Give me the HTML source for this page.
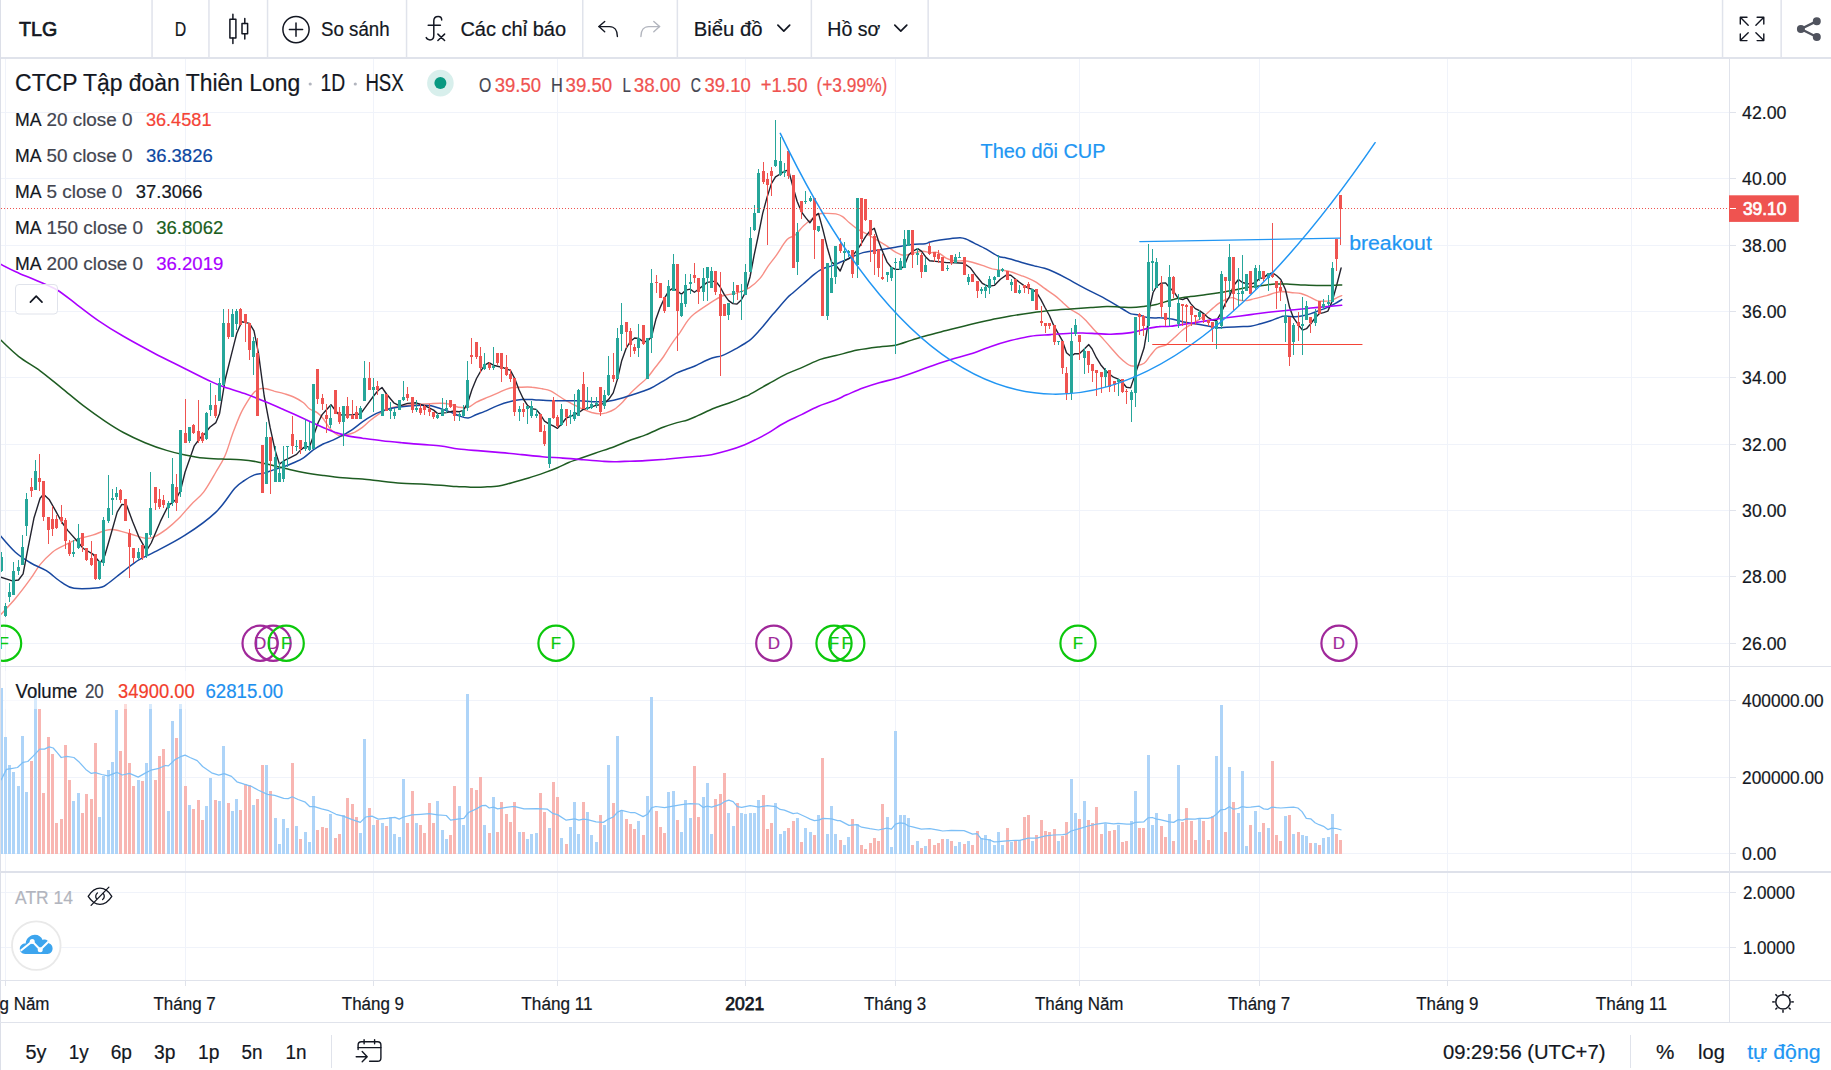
<!DOCTYPE html>
<html><head><meta charset="utf-8"><title>TLG chart</title>
<style>html,body{margin:0;padding:0;background:#fff;}body{width:1831px;height:1070px;overflow:hidden;font-family:"Liberation Sans", sans-serif;}svg{display:block}</style>
</head><body>
<svg width="1831" height="1070" viewBox="0 0 1831 1070" font-family='"Liberation Sans", sans-serif'>
<rect width="1831" height="1070" fill="#ffffff"/>
<g shape-rendering="crispEdges">
<rect x="5.00" y="59.00" width="1.00" height="921.00" fill="#f0f3fa"/>
<rect x="185.00" y="59.00" width="1.00" height="921.00" fill="#f0f3fa"/>
<rect x="373.00" y="59.00" width="1.00" height="921.00" fill="#f0f3fa"/>
<rect x="557.00" y="59.00" width="1.00" height="921.00" fill="#f0f3fa"/>
<rect x="745.00" y="59.00" width="1.00" height="921.00" fill="#f0f3fa"/>
<rect x="895.00" y="59.00" width="1.00" height="921.00" fill="#f0f3fa"/>
<rect x="1079.00" y="59.00" width="1.00" height="921.00" fill="#f0f3fa"/>
<rect x="1259.00" y="59.00" width="1.00" height="921.00" fill="#f0f3fa"/>
<rect x="1447.00" y="59.00" width="1.00" height="921.00" fill="#f0f3fa"/>
<rect x="1631.00" y="59.00" width="1.00" height="921.00" fill="#f0f3fa"/>
<rect x="1.00" y="643.00" width="1728.00" height="1.00" fill="#f0f3fa"/>
<rect x="1.00" y="576.00" width="1728.00" height="1.00" fill="#f0f3fa"/>
<rect x="1.00" y="510.00" width="1728.00" height="1.00" fill="#f0f3fa"/>
<rect x="1.00" y="444.00" width="1728.00" height="1.00" fill="#f0f3fa"/>
<rect x="1.00" y="377.00" width="1728.00" height="1.00" fill="#f0f3fa"/>
<rect x="1.00" y="311.00" width="1728.00" height="1.00" fill="#f0f3fa"/>
<rect x="1.00" y="245.00" width="1728.00" height="1.00" fill="#f0f3fa"/>
<rect x="1.00" y="178.00" width="1728.00" height="1.00" fill="#f0f3fa"/>
<rect x="1.00" y="112.00" width="1728.00" height="1.00" fill="#f0f3fa"/>
<rect x="1.00" y="700.00" width="1728.00" height="1.00" fill="#f0f3fa"/>
<rect x="1.00" y="777.00" width="1728.00" height="1.00" fill="#f0f3fa"/>
<rect x="1.00" y="853.00" width="1728.00" height="1.00" fill="#f0f3fa"/>
<rect x="1.00" y="892.00" width="1728.00" height="1.00" fill="#f0f3fa"/>
<rect x="1.00" y="947.00" width="1728.00" height="1.00" fill="#f0f3fa"/>
</g>
<defs><clipPath id="cm"><rect x="1" y="59" width="1728" height="607"/></clipPath><clipPath id="cv"><rect x="1" y="667" width="1728" height="204"/></clipPath></defs>
<g clip-path="url(#cv)" shape-rendering="crispEdges">
<rect x="0.00" y="687.62" width="3.00" height="166.38" fill="#aed4f8"/>
<rect x="4.00" y="737.18" width="3.00" height="116.82" fill="#aed4f8"/>
<rect x="8.00" y="765.14" width="3.00" height="88.86" fill="#aed4f8"/>
<rect x="12.00" y="772.13" width="3.00" height="81.87" fill="#aed4f8"/>
<rect x="17.00" y="786.11" width="3.00" height="67.89" fill="#aed4f8"/>
<rect x="21.00" y="736.07" width="3.00" height="117.93" fill="#aed4f8"/>
<rect x="25.00" y="791.99" width="3.00" height="62.01" fill="#aed4f8"/>
<rect x="30.00" y="761.01" width="3.00" height="92.99" fill="#f8b6b2"/>
<rect x="34.00" y="687.62" width="3.00" height="166.38" fill="#aed4f8"/>
<rect x="38.00" y="709.06" width="3.00" height="144.94" fill="#f8b6b2"/>
<rect x="42.00" y="793.26" width="3.00" height="60.74" fill="#f8b6b2"/>
<rect x="47.00" y="737.18" width="3.00" height="116.82" fill="#f8b6b2"/>
<rect x="51.00" y="754.02" width="3.00" height="99.98" fill="#f8b6b2"/>
<rect x="55.00" y="823.12" width="3.00" height="30.88" fill="#f8b6b2"/>
<rect x="60.00" y="818.99" width="3.00" height="35.01" fill="#f8b6b2"/>
<rect x="64.00" y="745.12" width="3.00" height="108.88" fill="#f8b6b2"/>
<rect x="68.00" y="780.07" width="3.00" height="73.93" fill="#f8b6b2"/>
<rect x="72.00" y="801.20" width="3.00" height="52.80" fill="#aed4f8"/>
<rect x="77.00" y="793.26" width="3.00" height="60.74" fill="#aed4f8"/>
<rect x="81.00" y="813.11" width="3.00" height="40.89" fill="#f8b6b2"/>
<rect x="85.00" y="794.05" width="3.00" height="59.95" fill="#f8b6b2"/>
<rect x="90.00" y="799.13" width="3.00" height="54.87" fill="#f8b6b2"/>
<rect x="94.00" y="743.22" width="3.00" height="110.78" fill="#f8b6b2"/>
<rect x="98.00" y="817.08" width="3.00" height="36.92" fill="#aed4f8"/>
<rect x="102.00" y="776.10" width="3.00" height="77.90" fill="#aed4f8"/>
<rect x="107.00" y="770.22" width="3.00" height="83.78" fill="#aed4f8"/>
<rect x="111.00" y="762.28" width="3.00" height="91.72" fill="#aed4f8"/>
<rect x="115.00" y="710.17" width="3.00" height="143.83" fill="#aed4f8"/>
<rect x="119.00" y="751.16" width="3.00" height="102.84" fill="#f8b6b2"/>
<rect x="124.00" y="704.30" width="3.00" height="149.70" fill="#f8b6b2"/>
<rect x="128.00" y="763.07" width="3.00" height="90.93" fill="#f8b6b2"/>
<rect x="132.00" y="786.11" width="3.00" height="67.89" fill="#f8b6b2"/>
<rect x="137.00" y="780.07" width="3.00" height="73.93" fill="#aed4f8"/>
<rect x="141.00" y="781.02" width="3.00" height="72.98" fill="#f8b6b2"/>
<rect x="145.00" y="763.07" width="3.00" height="90.93" fill="#aed4f8"/>
<rect x="149.00" y="704.30" width="3.00" height="149.70" fill="#aed4f8"/>
<rect x="154.00" y="780.07" width="3.00" height="73.93" fill="#f8b6b2"/>
<rect x="158.00" y="755.93" width="3.00" height="98.07" fill="#f8b6b2"/>
<rect x="162.00" y="749.09" width="3.00" height="104.91" fill="#f8b6b2"/>
<rect x="167.00" y="811.05" width="3.00" height="42.95" fill="#aed4f8"/>
<rect x="171.00" y="721.29" width="3.00" height="132.71" fill="#aed4f8"/>
<rect x="175.00" y="738.13" width="3.00" height="115.87" fill="#f8b6b2"/>
<rect x="179.00" y="703.50" width="3.00" height="150.50" fill="#aed4f8"/>
<rect x="184.00" y="786.11" width="3.00" height="67.89" fill="#f8b6b2"/>
<rect x="188.00" y="805.26" width="3.00" height="48.74" fill="#aed4f8"/>
<rect x="192.00" y="809.22" width="3.00" height="44.78" fill="#f8b6b2"/>
<rect x="197.00" y="800.21" width="3.00" height="53.79" fill="#f8b6b2"/>
<rect x="201.00" y="820.22" width="3.00" height="33.78" fill="#f8b6b2"/>
<rect x="205.00" y="806.16" width="3.00" height="47.84" fill="#aed4f8"/>
<rect x="209.00" y="778.23" width="3.00" height="75.77" fill="#aed4f8"/>
<rect x="214.00" y="800.21" width="3.00" height="53.79" fill="#f8b6b2"/>
<rect x="218.00" y="801.11" width="3.00" height="52.89" fill="#aed4f8"/>
<rect x="222.00" y="746.14" width="3.00" height="107.86" fill="#aed4f8"/>
<rect x="227.00" y="803.10" width="3.00" height="50.90" fill="#f8b6b2"/>
<rect x="231.00" y="811.21" width="3.00" height="42.79" fill="#aed4f8"/>
<rect x="235.00" y="798.95" width="3.00" height="55.05" fill="#aed4f8"/>
<rect x="239.00" y="810.13" width="3.00" height="43.87" fill="#f8b6b2"/>
<rect x="244.00" y="784.17" width="3.00" height="69.83" fill="#f8b6b2"/>
<rect x="248.00" y="785.43" width="3.00" height="68.57" fill="#f8b6b2"/>
<rect x="252.00" y="805.26" width="3.00" height="48.74" fill="#aed4f8"/>
<rect x="256.00" y="798.95" width="3.00" height="55.05" fill="#f8b6b2"/>
<rect x="261.00" y="765.07" width="3.00" height="88.93" fill="#f8b6b2"/>
<rect x="265.00" y="765.07" width="3.00" height="88.93" fill="#aed4f8"/>
<rect x="269.00" y="791.20" width="3.00" height="62.80" fill="#f8b6b2"/>
<rect x="274.00" y="818.24" width="3.00" height="35.76" fill="#aed4f8"/>
<rect x="278.00" y="844.01" width="3.00" height="9.99" fill="#aed4f8"/>
<rect x="282.00" y="819.14" width="3.00" height="34.86" fill="#aed4f8"/>
<rect x="286.00" y="828.15" width="3.00" height="25.85" fill="#aed4f8"/>
<rect x="291.00" y="763.27" width="3.00" height="90.73" fill="#f8b6b2"/>
<rect x="295.00" y="825.99" width="3.00" height="28.01" fill="#aed4f8"/>
<rect x="299.00" y="839.14" width="3.00" height="14.86" fill="#f8b6b2"/>
<rect x="304.00" y="832.29" width="3.00" height="21.71" fill="#aed4f8"/>
<rect x="308.00" y="842.21" width="3.00" height="11.79" fill="#aed4f8"/>
<rect x="312.00" y="796.25" width="3.00" height="57.75" fill="#aed4f8"/>
<rect x="316.00" y="830.13" width="3.00" height="23.87" fill="#f8b6b2"/>
<rect x="321.00" y="827.25" width="3.00" height="26.75" fill="#f8b6b2"/>
<rect x="325.00" y="828.15" width="3.00" height="25.85" fill="#f8b6b2"/>
<rect x="329.00" y="814.27" width="3.00" height="39.73" fill="#aed4f8"/>
<rect x="334.00" y="838.24" width="3.00" height="15.76" fill="#f8b6b2"/>
<rect x="338.00" y="834.10" width="3.00" height="19.90" fill="#f8b6b2"/>
<rect x="342.00" y="815.17" width="3.00" height="38.83" fill="#aed4f8"/>
<rect x="346.00" y="798.05" width="3.00" height="55.95" fill="#f8b6b2"/>
<rect x="351.00" y="804.00" width="3.00" height="50.00" fill="#f8b6b2"/>
<rect x="355.00" y="817.33" width="3.00" height="36.67" fill="#f8b6b2"/>
<rect x="359.00" y="833.19" width="3.00" height="20.81" fill="#aed4f8"/>
<rect x="363.00" y="739.12" width="3.00" height="114.88" fill="#aed4f8"/>
<rect x="368.00" y="808.14" width="3.00" height="45.86" fill="#f8b6b2"/>
<rect x="372.00" y="825.08" width="3.00" height="28.92" fill="#aed4f8"/>
<rect x="376.00" y="820.22" width="3.00" height="33.78" fill="#f8b6b2"/>
<rect x="381.00" y="823.28" width="3.00" height="30.72" fill="#aed4f8"/>
<rect x="385.00" y="826.17" width="3.00" height="27.83" fill="#f8b6b2"/>
<rect x="389.00" y="817.33" width="3.00" height="36.67" fill="#aed4f8"/>
<rect x="393.00" y="834.10" width="3.00" height="19.90" fill="#aed4f8"/>
<rect x="398.00" y="837.16" width="3.00" height="16.84" fill="#aed4f8"/>
<rect x="402.00" y="779.13" width="3.00" height="74.87" fill="#aed4f8"/>
<rect x="406.00" y="823.28" width="3.00" height="30.72" fill="#f8b6b2"/>
<rect x="411.00" y="791.20" width="3.00" height="62.80" fill="#f8b6b2"/>
<rect x="415.00" y="823.28" width="3.00" height="30.72" fill="#aed4f8"/>
<rect x="419.00" y="825.08" width="3.00" height="28.92" fill="#f8b6b2"/>
<rect x="423.00" y="833.19" width="3.00" height="20.81" fill="#f8b6b2"/>
<rect x="428.00" y="803.10" width="3.00" height="50.90" fill="#f8b6b2"/>
<rect x="432.00" y="823.28" width="3.00" height="30.72" fill="#f8b6b2"/>
<rect x="436.00" y="801.11" width="3.00" height="52.89" fill="#aed4f8"/>
<rect x="441.00" y="830.13" width="3.00" height="23.87" fill="#aed4f8"/>
<rect x="445.00" y="839.14" width="3.00" height="14.86" fill="#aed4f8"/>
<rect x="449.00" y="835.18" width="3.00" height="18.82" fill="#f8b6b2"/>
<rect x="453.00" y="786.34" width="3.00" height="67.66" fill="#f8b6b2"/>
<rect x="458.00" y="806.16" width="3.00" height="47.84" fill="#aed4f8"/>
<rect x="462.00" y="825.08" width="3.00" height="28.92" fill="#aed4f8"/>
<rect x="466.00" y="694.06" width="3.00" height="159.94" fill="#aed4f8"/>
<rect x="470.00" y="788.14" width="3.00" height="65.86" fill="#f8b6b2"/>
<rect x="475.00" y="790.12" width="3.00" height="63.88" fill="#f8b6b2"/>
<rect x="479.00" y="777.32" width="3.00" height="76.68" fill="#f8b6b2"/>
<rect x="483.00" y="825.08" width="3.00" height="28.92" fill="#aed4f8"/>
<rect x="488.00" y="833.19" width="3.00" height="20.81" fill="#f8b6b2"/>
<rect x="492.00" y="797.15" width="3.00" height="56.85" fill="#aed4f8"/>
<rect x="496.00" y="832.29" width="3.00" height="21.71" fill="#f8b6b2"/>
<rect x="500.00" y="802.20" width="3.00" height="51.80" fill="#f8b6b2"/>
<rect x="505.00" y="814.27" width="3.00" height="39.73" fill="#f8b6b2"/>
<rect x="509.00" y="822.20" width="3.00" height="31.80" fill="#f8b6b2"/>
<rect x="513.00" y="802.20" width="3.00" height="51.80" fill="#f8b6b2"/>
<rect x="518.00" y="832.29" width="3.00" height="21.71" fill="#aed4f8"/>
<rect x="522.00" y="832.29" width="3.00" height="21.71" fill="#f8b6b2"/>
<rect x="526.00" y="839.14" width="3.00" height="14.86" fill="#aed4f8"/>
<rect x="530.00" y="834.10" width="3.00" height="19.90" fill="#aed4f8"/>
<rect x="535.00" y="833.19" width="3.00" height="20.81" fill="#aed4f8"/>
<rect x="539.00" y="793.18" width="3.00" height="60.82" fill="#f8b6b2"/>
<rect x="543.00" y="812.11" width="3.00" height="41.89" fill="#f8b6b2"/>
<rect x="548.00" y="828.15" width="3.00" height="25.85" fill="#aed4f8"/>
<rect x="552.00" y="782.19" width="3.00" height="71.81" fill="#f8b6b2"/>
<rect x="556.00" y="797.15" width="3.00" height="56.85" fill="#f8b6b2"/>
<rect x="560.00" y="838.24" width="3.00" height="15.76" fill="#aed4f8"/>
<rect x="565.00" y="844.01" width="3.00" height="9.99" fill="#f8b6b2"/>
<rect x="569.00" y="827.25" width="3.00" height="26.75" fill="#aed4f8"/>
<rect x="573.00" y="802.20" width="3.00" height="51.80" fill="#aed4f8"/>
<rect x="577.00" y="834.10" width="3.00" height="19.90" fill="#aed4f8"/>
<rect x="582.00" y="802.20" width="3.00" height="51.80" fill="#f8b6b2"/>
<rect x="586.00" y="812.11" width="3.00" height="41.89" fill="#aed4f8"/>
<rect x="590.00" y="835.00" width="3.00" height="19.00" fill="#aed4f8"/>
<rect x="595.00" y="842.21" width="3.00" height="11.79" fill="#aed4f8"/>
<rect x="599.00" y="815.17" width="3.00" height="38.83" fill="#f8b6b2"/>
<rect x="603.00" y="825.08" width="3.00" height="28.92" fill="#aed4f8"/>
<rect x="607.00" y="765.07" width="3.00" height="88.93" fill="#aed4f8"/>
<rect x="612.00" y="803.10" width="3.00" height="50.90" fill="#f8b6b2"/>
<rect x="616.00" y="736.05" width="3.00" height="117.95" fill="#aed4f8"/>
<rect x="620.00" y="810.13" width="3.00" height="43.87" fill="#aed4f8"/>
<rect x="625.00" y="819.14" width="3.00" height="34.86" fill="#f8b6b2"/>
<rect x="629.00" y="824.18" width="3.00" height="29.82" fill="#f8b6b2"/>
<rect x="633.00" y="829.23" width="3.00" height="24.77" fill="#f8b6b2"/>
<rect x="637.00" y="821.12" width="3.00" height="32.88" fill="#aed4f8"/>
<rect x="642.00" y="835.00" width="3.00" height="19.00" fill="#f8b6b2"/>
<rect x="646.00" y="796.25" width="3.00" height="57.75" fill="#aed4f8"/>
<rect x="650.00" y="697.12" width="3.00" height="156.88" fill="#aed4f8"/>
<rect x="655.00" y="811.21" width="3.00" height="42.79" fill="#f8b6b2"/>
<rect x="659.00" y="827.25" width="3.00" height="26.75" fill="#f8b6b2"/>
<rect x="663.00" y="833.19" width="3.00" height="20.81" fill="#f8b6b2"/>
<rect x="667.00" y="792.10" width="3.00" height="61.90" fill="#aed4f8"/>
<rect x="672.00" y="791.20" width="3.00" height="62.80" fill="#aed4f8"/>
<rect x="676.00" y="820.22" width="3.00" height="33.78" fill="#f8b6b2"/>
<rect x="680.00" y="832.29" width="3.00" height="21.71" fill="#aed4f8"/>
<rect x="684.00" y="800.21" width="3.00" height="53.79" fill="#aed4f8"/>
<rect x="689.00" y="818.24" width="3.00" height="35.76" fill="#aed4f8"/>
<rect x="693.00" y="766.15" width="3.00" height="87.85" fill="#f8b6b2"/>
<rect x="697.00" y="817.15" width="3.00" height="36.85" fill="#f8b6b2"/>
<rect x="702.00" y="797.15" width="3.00" height="56.85" fill="#aed4f8"/>
<rect x="706.00" y="783.09" width="3.00" height="70.91" fill="#aed4f8"/>
<rect x="710.00" y="834.10" width="3.00" height="19.90" fill="#aed4f8"/>
<rect x="714.00" y="798.95" width="3.00" height="55.05" fill="#f8b6b2"/>
<rect x="719.00" y="794.09" width="3.00" height="59.91" fill="#f8b6b2"/>
<rect x="723.00" y="773.18" width="3.00" height="80.82" fill="#f8b6b2"/>
<rect x="727.00" y="813.19" width="3.00" height="40.81" fill="#aed4f8"/>
<rect x="732.00" y="826.17" width="3.00" height="27.83" fill="#aed4f8"/>
<rect x="736.00" y="803.10" width="3.00" height="50.90" fill="#f8b6b2"/>
<rect x="740.00" y="813.19" width="3.00" height="40.81" fill="#aed4f8"/>
<rect x="744.00" y="814.27" width="3.00" height="39.73" fill="#aed4f8"/>
<rect x="749.00" y="813.19" width="3.00" height="40.81" fill="#aed4f8"/>
<rect x="753.00" y="813.19" width="3.00" height="40.81" fill="#aed4f8"/>
<rect x="757.00" y="800.21" width="3.00" height="53.79" fill="#aed4f8"/>
<rect x="762.00" y="795.17" width="3.00" height="58.83" fill="#f8b6b2"/>
<rect x="766.00" y="829.23" width="3.00" height="24.77" fill="#f8b6b2"/>
<rect x="770.00" y="823.28" width="3.00" height="30.72" fill="#f8b6b2"/>
<rect x="774.00" y="803.10" width="3.00" height="50.90" fill="#aed4f8"/>
<rect x="779.00" y="834.10" width="3.00" height="19.90" fill="#aed4f8"/>
<rect x="783.00" y="831.21" width="3.00" height="22.79" fill="#aed4f8"/>
<rect x="787.00" y="828.15" width="3.00" height="25.85" fill="#f8b6b2"/>
<rect x="792.00" y="821.12" width="3.00" height="32.88" fill="#f8b6b2"/>
<rect x="796.00" y="818.24" width="3.00" height="35.76" fill="#aed4f8"/>
<rect x="800.00" y="842.21" width="3.00" height="11.79" fill="#f8b6b2"/>
<rect x="804.00" y="828.15" width="3.00" height="25.85" fill="#aed4f8"/>
<rect x="809.00" y="832.29" width="3.00" height="21.71" fill="#aed4f8"/>
<rect x="813.00" y="835.00" width="3.00" height="19.00" fill="#f8b6b2"/>
<rect x="817.00" y="815.17" width="3.00" height="38.83" fill="#aed4f8"/>
<rect x="821.00" y="758.04" width="3.00" height="95.96" fill="#f8b6b2"/>
<rect x="826.00" y="834.10" width="3.00" height="19.90" fill="#aed4f8"/>
<rect x="830.00" y="806.16" width="3.00" height="47.84" fill="#aed4f8"/>
<rect x="834.00" y="834.10" width="3.00" height="19.90" fill="#aed4f8"/>
<rect x="839.00" y="840.04" width="3.00" height="13.96" fill="#f8b6b2"/>
<rect x="843.00" y="845.09" width="3.00" height="8.91" fill="#aed4f8"/>
<rect x="847.00" y="837.16" width="3.00" height="16.84" fill="#aed4f8"/>
<rect x="851.00" y="819.14" width="3.00" height="34.86" fill="#f8b6b2"/>
<rect x="856.00" y="824.18" width="3.00" height="29.82" fill="#aed4f8"/>
<rect x="860.00" y="845.09" width="3.00" height="8.91" fill="#f8b6b2"/>
<rect x="864.00" y="849.06" width="3.00" height="4.94" fill="#f8b6b2"/>
<rect x="869.00" y="843.11" width="3.00" height="10.89" fill="#f8b6b2"/>
<rect x="873.00" y="838.24" width="3.00" height="15.76" fill="#f8b6b2"/>
<rect x="877.00" y="841.13" width="3.00" height="12.87" fill="#f8b6b2"/>
<rect x="881.00" y="804.18" width="3.00" height="49.82" fill="#f8b6b2"/>
<rect x="886.00" y="817.15" width="3.00" height="36.85" fill="#aed4f8"/>
<rect x="890.00" y="847.25" width="3.00" height="6.75" fill="#aed4f8"/>
<rect x="894.00" y="731.00" width="3.00" height="123.00" fill="#aed4f8"/>
<rect x="899.00" y="815.17" width="3.00" height="38.83" fill="#aed4f8"/>
<rect x="903.00" y="815.17" width="3.00" height="38.83" fill="#aed4f8"/>
<rect x="907.00" y="818.24" width="3.00" height="35.76" fill="#aed4f8"/>
<rect x="911.00" y="845.09" width="3.00" height="8.91" fill="#f8b6b2"/>
<rect x="916.00" y="841.13" width="3.00" height="12.87" fill="#aed4f8"/>
<rect x="920.00" y="848.15" width="3.00" height="5.85" fill="#f8b6b2"/>
<rect x="924.00" y="846.17" width="3.00" height="7.83" fill="#aed4f8"/>
<rect x="928.00" y="839.14" width="3.00" height="14.86" fill="#f8b6b2"/>
<rect x="933.00" y="845.09" width="3.00" height="8.91" fill="#f8b6b2"/>
<rect x="937.00" y="843.11" width="3.00" height="10.89" fill="#f8b6b2"/>
<rect x="941.00" y="839.14" width="3.00" height="14.86" fill="#f8b6b2"/>
<rect x="946.00" y="839.14" width="3.00" height="14.86" fill="#aed4f8"/>
<rect x="950.00" y="841.13" width="3.00" height="12.87" fill="#f8b6b2"/>
<rect x="954.00" y="846.17" width="3.00" height="7.83" fill="#aed4f8"/>
<rect x="958.00" y="842.21" width="3.00" height="11.79" fill="#aed4f8"/>
<rect x="963.00" y="844.01" width="3.00" height="9.99" fill="#f8b6b2"/>
<rect x="967.00" y="841.13" width="3.00" height="12.87" fill="#aed4f8"/>
<rect x="971.00" y="845.09" width="3.00" height="8.91" fill="#f8b6b2"/>
<rect x="976.00" y="831.21" width="3.00" height="22.79" fill="#f8b6b2"/>
<rect x="980.00" y="838.24" width="3.00" height="15.76" fill="#aed4f8"/>
<rect x="984.00" y="835.18" width="3.00" height="18.82" fill="#aed4f8"/>
<rect x="988.00" y="839.14" width="3.00" height="14.86" fill="#aed4f8"/>
<rect x="993.00" y="845.09" width="3.00" height="8.91" fill="#aed4f8"/>
<rect x="997.00" y="832.29" width="3.00" height="21.71" fill="#aed4f8"/>
<rect x="1001.00" y="845.09" width="3.00" height="8.91" fill="#aed4f8"/>
<rect x="1006.00" y="828.15" width="3.00" height="25.85" fill="#f8b6b2"/>
<rect x="1010.00" y="842.21" width="3.00" height="11.79" fill="#aed4f8"/>
<rect x="1014.00" y="840.04" width="3.00" height="13.96" fill="#f8b6b2"/>
<rect x="1018.00" y="840.04" width="3.00" height="13.96" fill="#aed4f8"/>
<rect x="1023.00" y="817.15" width="3.00" height="36.85" fill="#f8b6b2"/>
<rect x="1027.00" y="815.17" width="3.00" height="38.83" fill="#f8b6b2"/>
<rect x="1031.00" y="841.13" width="3.00" height="12.87" fill="#aed4f8"/>
<rect x="1035.00" y="835.18" width="3.00" height="18.82" fill="#f8b6b2"/>
<rect x="1040.00" y="820.22" width="3.00" height="33.78" fill="#f8b6b2"/>
<rect x="1044.00" y="831.21" width="3.00" height="22.79" fill="#f8b6b2"/>
<rect x="1048.00" y="832.29" width="3.00" height="21.71" fill="#f8b6b2"/>
<rect x="1053.00" y="829.23" width="3.00" height="24.77" fill="#f8b6b2"/>
<rect x="1057.00" y="841.13" width="3.00" height="12.87" fill="#aed4f8"/>
<rect x="1061.00" y="836.26" width="3.00" height="17.74" fill="#f8b6b2"/>
<rect x="1065.00" y="822.20" width="3.00" height="31.80" fill="#f8b6b2"/>
<rect x="1070.00" y="779.13" width="3.00" height="74.87" fill="#aed4f8"/>
<rect x="1074.00" y="813.19" width="3.00" height="40.81" fill="#aed4f8"/>
<rect x="1078.00" y="819.14" width="3.00" height="34.86" fill="#f8b6b2"/>
<rect x="1083.00" y="801.11" width="3.00" height="52.89" fill="#aed4f8"/>
<rect x="1087.00" y="820.22" width="3.00" height="33.78" fill="#f8b6b2"/>
<rect x="1091.00" y="823.28" width="3.00" height="30.72" fill="#f8b6b2"/>
<rect x="1095.00" y="807.24" width="3.00" height="46.76" fill="#f8b6b2"/>
<rect x="1100.00" y="834.10" width="3.00" height="19.90" fill="#f8b6b2"/>
<rect x="1104.00" y="824.18" width="3.00" height="29.82" fill="#aed4f8"/>
<rect x="1108.00" y="831.21" width="3.00" height="22.79" fill="#f8b6b2"/>
<rect x="1113.00" y="830.13" width="3.00" height="23.87" fill="#f8b6b2"/>
<rect x="1117.00" y="825.08" width="3.00" height="28.92" fill="#aed4f8"/>
<rect x="1121.00" y="842.21" width="3.00" height="11.79" fill="#f8b6b2"/>
<rect x="1125.00" y="841.13" width="3.00" height="12.87" fill="#f8b6b2"/>
<rect x="1130.00" y="821.12" width="3.00" height="32.88" fill="#aed4f8"/>
<rect x="1134.00" y="791.20" width="3.00" height="62.80" fill="#aed4f8"/>
<rect x="1138.00" y="828.15" width="3.00" height="25.85" fill="#f8b6b2"/>
<rect x="1142.00" y="828.15" width="3.00" height="25.85" fill="#f8b6b2"/>
<rect x="1147.00" y="755.16" width="3.00" height="98.84" fill="#aed4f8"/>
<rect x="1151.00" y="825.08" width="3.00" height="28.92" fill="#aed4f8"/>
<rect x="1155.00" y="813.19" width="3.00" height="40.81" fill="#aed4f8"/>
<rect x="1160.00" y="826.17" width="3.00" height="27.83" fill="#f8b6b2"/>
<rect x="1164.00" y="837.16" width="3.00" height="16.84" fill="#f8b6b2"/>
<rect x="1168.00" y="814.27" width="3.00" height="39.73" fill="#aed4f8"/>
<rect x="1172.00" y="841.13" width="3.00" height="12.87" fill="#f8b6b2"/>
<rect x="1177.00" y="765.07" width="3.00" height="88.93" fill="#aed4f8"/>
<rect x="1181.00" y="822.20" width="3.00" height="31.80" fill="#f8b6b2"/>
<rect x="1185.00" y="808.14" width="3.00" height="45.86" fill="#f8b6b2"/>
<rect x="1190.00" y="821.12" width="3.00" height="32.88" fill="#f8b6b2"/>
<rect x="1194.00" y="840.04" width="3.00" height="13.96" fill="#f8b6b2"/>
<rect x="1198.00" y="818.24" width="3.00" height="35.76" fill="#aed4f8"/>
<rect x="1202.00" y="821.12" width="3.00" height="32.88" fill="#f8b6b2"/>
<rect x="1207.00" y="840.04" width="3.00" height="13.96" fill="#f8b6b2"/>
<rect x="1211.00" y="816.25" width="3.00" height="37.75" fill="#f8b6b2"/>
<rect x="1215.00" y="756.06" width="3.00" height="97.94" fill="#aed4f8"/>
<rect x="1220.00" y="705.05" width="3.00" height="148.95" fill="#aed4f8"/>
<rect x="1224.00" y="832.29" width="3.00" height="21.71" fill="#f8b6b2"/>
<rect x="1228.00" y="767.05" width="3.00" height="86.95" fill="#aed4f8"/>
<rect x="1232.00" y="802.20" width="3.00" height="51.80" fill="#f8b6b2"/>
<rect x="1237.00" y="813.19" width="3.00" height="40.81" fill="#aed4f8"/>
<rect x="1241.00" y="771.20" width="3.00" height="82.80" fill="#aed4f8"/>
<rect x="1245.00" y="846.17" width="3.00" height="7.83" fill="#aed4f8"/>
<rect x="1249.00" y="825.08" width="3.00" height="28.92" fill="#f8b6b2"/>
<rect x="1254.00" y="811.21" width="3.00" height="42.79" fill="#aed4f8"/>
<rect x="1258.00" y="832.29" width="3.00" height="21.71" fill="#aed4f8"/>
<rect x="1262.00" y="823.28" width="3.00" height="30.72" fill="#f8b6b2"/>
<rect x="1267.00" y="828.15" width="3.00" height="25.85" fill="#aed4f8"/>
<rect x="1271.00" y="761.10" width="3.00" height="92.90" fill="#f8b6b2"/>
<rect x="1275.00" y="835.18" width="3.00" height="18.82" fill="#f8b6b2"/>
<rect x="1279.00" y="841.13" width="3.00" height="12.87" fill="#f8b6b2"/>
<rect x="1284.00" y="816.25" width="3.00" height="37.75" fill="#aed4f8"/>
<rect x="1288.00" y="815.17" width="3.00" height="38.83" fill="#f8b6b2"/>
<rect x="1292.00" y="834.10" width="3.00" height="19.90" fill="#aed4f8"/>
<rect x="1297.00" y="832.29" width="3.00" height="21.71" fill="#f8b6b2"/>
<rect x="1301.00" y="835.18" width="3.00" height="18.82" fill="#aed4f8"/>
<rect x="1305.00" y="836.26" width="3.00" height="17.74" fill="#aed4f8"/>
<rect x="1309.00" y="843.11" width="3.00" height="10.89" fill="#f8b6b2"/>
<rect x="1314.00" y="843.11" width="3.00" height="10.89" fill="#aed4f8"/>
<rect x="1318.00" y="845.09" width="3.00" height="8.91" fill="#f8b6b2"/>
<rect x="1322.00" y="838.24" width="3.00" height="15.76" fill="#aed4f8"/>
<rect x="1327.00" y="837.16" width="3.00" height="16.84" fill="#aed4f8"/>
<rect x="1331.00" y="814.27" width="3.00" height="39.73" fill="#aed4f8"/>
<rect x="1335.00" y="834.10" width="3.00" height="19.90" fill="#f8b6b2"/>
<rect x="1339.00" y="840.04" width="3.00" height="13.96" fill="#f8b6b2"/>
</g>
<path clip-path="url(#cv)" d="M-3.2,785.3 L1.6,779.0 L6.4,769.4 L11.1,768.6 L17.5,767.5 L23.0,762.3 L27.8,761.5 L33.4,755.9 L39.7,749.1 L44.5,749.1 L49.2,746.9 L53.2,748.0 L57.2,752.7 L61.2,757.5 L66.7,756.4 L73.9,757.5 L79.4,762.3 L85.8,769.4 L91.3,773.4 L95.3,772.6 L101.7,774.5 L108.0,775.8 L116.8,772.3 L122.3,775.0 L129.5,773.4 L138.2,777.1 L146.1,772.6 L150.9,770.2 L158.9,768.3 L165.2,765.5 L168.4,765.9 L174.7,759.9 L180.5,756.7 L185.1,755.1 L190.0,757.5 L197.2,760.6 L202.6,766.5 L211.6,772.8 L218.8,775.2 L224.2,773.7 L231.5,776.4 L236.9,781.8 L244.1,784.2 L251.3,786.3 L258.5,790.3 L267.5,794.4 L274.7,795.3 L283.7,798.4 L288.2,798.6 L292.2,796.8 L298.1,799.5 L305.3,802.2 L309.9,806.7 L314.4,806.7 L321.6,808.9 L328.8,810.7 L336.0,814.3 L343.2,816.1 L352.2,819.7 L360.3,822.4 L365.7,817.0 L372.0,816.1 L378.3,819.1 L386.5,818.4 L394.9,817.3 L399.2,819.1 L403.6,817.0 L412.0,814.8 L420.7,814.3 L429.2,813.7 L437.8,814.8 L446.3,815.5 L450.6,820.2 L459.3,818.8 L463.9,818.4 L468.5,812.5 L476.4,808.9 L482.0,805.6 L485.6,805.3 L489.2,808.0 L493.5,807.1 L497.7,808.9 L506.3,807.4 L512.6,806.7 L515.0,806.7 L524.0,808.9 L536.6,808.7 L547.4,809.2 L553.2,813.7 L557.5,814.6 L566.2,820.2 L574.7,818.8 L579.0,820.2 L583.3,819.1 L587.5,819.7 L596.1,821.8 L603.3,822.4 L608.9,818.8 L613.2,817.0 L617.6,812.1 L621.7,810.3 L630.3,812.5 L634.7,812.5 L643.1,816.6 L647.5,814.3 L651.8,807.6 L655.9,806.5 L664.6,807.6 L673.1,806.2 L681.7,804.7 L690.2,803.6 L698.8,804.0 L703.2,807.4 L707.3,806.2 L711.6,807.1 L720.3,804.4 L724.4,801.7 L728.8,800.2 L733.1,801.7 L737.4,806.7 L741.7,807.4 L750.2,805.6 L758.9,807.1 L767.3,805.6 L776.0,806.7 L780.1,809.4 L784.4,810.1 L793.1,813.7 L797.2,813.0 L805.9,817.0 L810.2,819.1 L814.4,820.6 L818.7,820.2 L823.0,818.4 L831.5,818.8 L837.6,820.6 L840.0,820.6 L849.0,825.4 L857.1,824.7 L861.6,827.2 L869.9,828.7 L878.4,830.0 L887.0,828.1 L891.4,829.2 L895.5,824.2 L899.8,822.9 L904.2,823.3 L908.5,826.0 L912.6,826.9 L921.3,829.2 L929.8,828.7 L938.4,830.1 L942.7,831.0 L951.2,830.3 L964.0,830.7 L972.6,834.1 L977.0,833.6 L981.1,838.6 L989.8,840.0 L994.1,841.8 L998.2,841.7 L1006.9,840.8 L1015.4,840.4 L1019.7,840.4 L1028.3,838.2 L1036.8,838.1 L1045.5,835.9 L1053.9,835.0 L1062.6,834.6 L1066.7,834.1 L1071.1,831.0 L1079.5,828.7 L1088.2,826.0 L1096.6,824.2 L1105.3,822.9 L1113.8,823.8 L1118.1,823.3 L1126.7,824.2 L1130.9,824.2 L1135.2,822.4 L1143.9,821.8 L1148.0,817.9 L1152.3,817.5 L1156.7,819.1 L1160.0,819.7 L1169.4,821.8 L1173.7,822.4 L1178.0,819.7 L1182.3,820.2 L1186.5,818.8 L1195.1,819.1 L1199.3,818.4 L1207.9,818.4 L1212.3,817.3 L1216.4,814.3 L1220.7,809.8 L1225.1,809.4 L1229.4,806.7 L1233.5,809.2 L1237.9,808.5 L1242.2,806.7 L1246.5,807.4 L1250.7,807.1 L1259.3,806.2 L1263.6,808.9 L1267.8,809.4 L1272.1,807.1 L1276.4,807.6 L1280.8,808.0 L1289.2,807.4 L1293.5,807.2 L1297.9,808.0 L1302.0,811.6 L1306.3,818.4 L1310.7,818.8 L1315.0,822.7 L1319.1,824.7 L1323.5,826.3 L1327.8,829.6 L1331.9,828.1 L1336.3,828.5 L1341.5,830.0" fill="none" stroke="#7dbff6" stroke-width="1.25" stroke-linejoin="round"/>
<rect x="4.00" y="671.00" width="286.00" height="38.00" fill="#ffffff" fill-opacity="0.5"/>
<g clip-path="url(#cm)" fill="none" stroke-linejoin="round" stroke-linecap="round">
<path d="M-3.1,620.1 C-2.6,619.3 -3.1,619.0 0.0,615.4 C3.1,611.9 10.3,604.7 15.4,598.5 C20.6,592.3 26.7,584.1 30.8,578.4 C35.0,572.8 36.5,568.9 40.1,564.6 C43.7,560.2 48.8,555.2 52.4,552.2 C56.0,549.2 57.6,548.8 61.7,546.7 C65.8,544.5 72.0,541.2 77.1,539.3 C82.3,537.4 87.9,536.7 92.5,535.2 C97.2,533.8 101.3,531.5 104.9,530.6 C108.5,529.7 110.0,529.2 114.1,529.7 C118.3,530.2 124.4,532.3 129.6,533.7 C134.7,535.1 140.9,537.8 145.0,538.3 C149.1,538.8 150.6,538.3 154.2,536.8 C157.8,535.2 162.5,532.2 166.6,529.1 C170.7,526.0 174.8,522.4 178.9,518.3 C183.0,514.2 187.1,508.8 191.3,504.4 C195.4,500.0 199.5,497.5 203.6,492.1 C207.7,486.7 212.4,478.0 215.9,472.0 C219.5,466.0 222.2,462.3 225.0,455.8 C227.8,449.4 230.2,440.3 232.8,433.3 C235.5,426.2 238.1,419.2 240.7,413.6 C243.3,408.1 246.3,403.5 248.5,399.9 C250.8,396.3 252.5,393.9 254.4,392.0 C256.4,390.2 258.4,389.3 260.3,388.7 C262.3,388.2 263.9,388.3 266.2,388.7 C268.5,389.1 271.1,390.2 274.1,391.1 C277.0,391.9 280.6,392.6 283.9,393.6 C287.1,394.6 290.4,395.4 293.7,397.0 C297.0,398.5 300.9,400.9 303.5,402.8 C306.1,404.8 307.1,407.1 309.4,408.7 C311.7,410.4 314.9,411.0 317.2,412.6 C319.5,414.3 321.2,416.1 323.1,418.5 C325.1,421.0 327.0,424.9 329.0,427.4 C331.0,429.8 332.9,431.8 334.9,433.3 C336.9,434.7 338.8,435.9 340.8,436.2 C342.7,436.5 344.4,435.5 346.7,434.8 C349.0,434.2 351.9,433.5 354.5,432.3 C357.1,431.0 359.8,429.3 362.4,427.4 C365.0,425.4 367.6,422.6 370.2,420.5 C372.8,418.4 375.4,416.4 378.1,414.6 C380.7,412.8 383.0,411.0 385.9,409.7 C388.9,408.4 392.5,407.5 395.7,406.8 C399.0,406.0 401.9,405.8 405.5,405.4 C409.1,405.0 413.4,404.7 417.3,404.4 C421.2,404.1 425.2,404.0 429.1,403.8 C433.0,403.6 437.3,403.1 440.9,403.2 C444.5,403.3 447.7,403.8 450.7,404.4 C453.6,405.1 455.6,406.7 458.5,407.2 C461.4,407.6 465.2,408.2 468.2,407.3 C471.2,406.5 473.4,403.8 476.5,402.2 C479.5,400.6 483.3,399.1 486.7,397.7 C490.2,396.2 493.2,394.9 497.0,393.3 C500.8,391.8 505.2,389.2 509.4,388.2 C513.5,387.2 517.9,387.3 521.7,387.2 C525.5,387.0 528.6,386.9 532.0,387.2 C535.4,387.4 539.2,388.2 542.3,388.8 C545.3,389.4 547.7,389.7 550.5,390.9 C553.2,392.1 556.0,394.3 558.7,396.0 C561.5,397.7 564.2,399.6 566.9,401.2 C569.7,402.7 572.4,403.9 575.2,405.3 C577.9,406.6 580.7,408.2 583.4,409.4 C586.1,410.6 588.9,411.7 591.6,412.5 C594.4,413.2 597.4,413.8 599.8,413.9 C602.2,414.0 603.6,413.6 606.0,412.9 C608.4,412.1 611.5,411.2 614.2,409.4 C617.0,407.6 619.7,404.9 622.5,402.2 C625.2,399.4 628.0,395.7 630.7,392.9 C633.4,390.1 636.2,387.8 638.9,385.3 C641.7,382.8 644.4,380.9 647.1,377.9 C649.9,374.9 652.6,370.8 655.4,367.2 C658.1,363.7 660.9,360.5 663.6,356.5 C666.3,352.6 669.1,347.6 671.8,343.6 C674.6,339.5 677.3,336.2 680.1,332.3 C682.8,328.3 685.9,323.0 688.3,319.9 C690.7,316.8 691.1,316.4 694.4,313.8 C697.8,311.1 703.9,307.1 708.5,304.1 C713.2,301.1 717.6,297.8 722.1,296.0 C726.6,294.2 731.1,294.6 735.6,293.3 C740.1,291.9 745.1,290.3 749.2,287.8 C753.2,285.4 756.9,282.0 760.0,278.4 C763.2,274.8 765.4,270.0 768.1,266.2 C770.8,262.3 773.1,259.8 776.3,255.3 C779.4,250.9 783.9,243.0 787.1,239.6 C790.3,236.2 792.5,237.3 795.2,235.0 C797.9,232.8 800.6,228.7 803.4,226.1 C806.1,223.5 808.8,221.3 811.5,219.3 C814.2,217.3 816.9,214.9 819.6,213.9 C822.3,212.9 825.0,213.4 827.7,213.4 C830.4,213.4 833.4,213.4 835.9,213.9 C838.3,214.4 840.4,215.1 842.6,216.6 C844.9,218.1 846.9,220.8 849.4,222.8 C851.9,224.9 854.4,227.0 857.5,229.1 C860.7,231.1 864.8,233.0 868.4,235.0 C872.0,237.1 876.0,239.4 879.2,241.3 C882.4,243.1 884.6,244.6 887.3,246.4 C890.0,248.2 892.7,250.6 895.5,252.1 C898.2,253.6 900.9,255.1 903.6,255.3 C906.3,255.6 908.5,254.1 911.7,253.4 C914.9,252.8 919.6,251.4 922.5,251.3 C925.5,251.1 927.0,252.4 929.6,252.6 C932.2,252.8 935.3,251.7 938.0,252.6 C940.8,253.5 943.4,256.8 946.1,258.2 C948.8,259.6 951.2,260.4 954.1,260.8 C957.1,261.3 960.8,260.6 963.8,260.8 C966.8,261.1 969.1,261.5 972.2,262.2 C975.3,263.0 978.9,264.1 982.3,265.3 C985.6,266.4 989.0,268.0 992.3,268.9 C995.7,269.7 999.3,269.8 1002.4,270.3 C1005.4,270.7 1007.4,270.8 1010.4,271.7 C1013.4,272.5 1017.4,274.2 1020.5,275.3 C1023.5,276.4 1025.8,277.1 1028.5,278.3 C1031.2,279.5 1033.9,280.7 1036.5,282.3 C1039.2,284.0 1041.6,286.2 1044.6,288.4 C1047.6,290.5 1051.6,293.1 1054.6,295.4 C1057.6,297.7 1060.0,300.1 1062.7,302.4 C1065.3,304.8 1067.9,307.5 1070.7,309.5 C1073.5,311.5 1076.7,312.5 1079.3,314.5 C1082.0,316.5 1084.2,318.9 1086.8,321.5 C1089.4,324.2 1092.1,327.7 1094.8,330.6 C1097.5,333.4 1100.2,335.8 1102.9,338.6 C1105.5,341.5 1108.2,344.6 1110.9,347.7 C1113.6,350.7 1116.3,354.0 1118.9,356.7 C1121.6,359.4 1125.0,362.2 1127.0,363.7 C1129.0,365.3 1129.5,365.4 1131.0,365.8 C1132.5,366.1 1133.9,366.3 1136.0,365.9 C1138.2,365.5 1141.7,365.0 1144.1,363.3 C1146.4,361.6 1147.9,358.4 1150.1,355.9 C1152.3,353.3 1154.5,349.7 1157.1,347.8 C1159.8,346.0 1163.3,346.5 1166.2,344.8 C1169.0,343.1 1171.2,340.4 1174.2,337.8 C1177.2,335.1 1180.9,331.2 1184.3,328.7 C1187.6,326.2 1191.0,324.9 1194.3,322.7 C1197.7,320.5 1201.4,318.0 1204.4,315.7 C1207.4,313.3 1210.1,310.6 1212.4,308.6 C1214.8,306.6 1216.1,305.2 1218.4,303.6 C1220.8,302.0 1224.1,300.2 1226.5,299.2 C1228.8,298.2 1230.5,297.4 1232.5,297.6 C1234.5,297.7 1236.2,299.5 1238.5,300.0 C1240.9,300.5 1243.9,300.8 1246.6,300.6 C1249.3,300.3 1251.3,299.4 1254.6,298.6 C1258.0,297.7 1263.3,296.5 1266.7,295.6 C1270.0,294.6 1272.0,293.6 1274.7,292.9 C1277.4,292.3 1280.1,291.6 1282.8,291.5 C1285.4,291.5 1287.8,292.2 1290.8,292.5 C1293.8,292.9 1297.8,292.9 1300.9,293.5 C1303.9,294.2 1306.2,295.4 1308.9,296.6 C1311.6,297.7 1314.6,299.8 1316.9,300.6 C1319.3,301.3 1320.6,301.2 1323.0,301.2 C1325.3,301.2 1328.7,301.2 1331.0,300.6 C1333.4,300.0 1335.3,298.4 1337.0,297.6 C1338.8,296.7 1340.9,295.9 1341.7,295.6" stroke="#f78f86" stroke-width="1.4"/>
<path d="M-3.1,530.6 C-2.6,531.4 -3.1,531.6 0.0,535.2 C3.1,538.8 10.3,547.6 15.4,552.2 C20.6,556.8 25.7,559.9 30.8,563.0 C36.0,566.1 41.1,567.5 46.3,570.7 C51.4,574.0 57.1,579.5 61.7,582.4 C66.3,585.4 67.9,587.4 74.0,588.3 C80.2,589.2 93.3,588.3 98.7,587.7 C104.1,587.1 102.3,587.3 106.4,584.6 C110.5,581.9 118.0,575.4 123.4,571.3 C128.8,567.2 133.7,563.1 138.8,559.9 C144.0,556.7 146.5,556.3 154.2,552.2 C162.0,548.1 174.8,541.9 185.1,535.2 C195.4,528.6 207.7,519.9 215.9,512.1 C224.2,504.3 230.0,493.5 234.8,488.2 C239.6,482.9 241.4,482.6 244.6,480.4 C247.9,478.1 251.2,476.1 254.4,474.9 C257.7,473.6 261.0,474.0 264.2,473.1 C267.5,472.2 270.8,470.6 274.1,469.6 C277.3,468.5 280.6,467.8 283.9,466.6 C287.1,465.5 290.4,464.2 293.7,462.7 C297.0,461.2 300.2,459.9 303.5,457.8 C306.8,455.7 310.0,452.2 313.3,449.9 C316.6,447.6 319.8,445.7 323.1,444.0 C326.4,442.4 329.7,441.6 332.9,440.1 C336.2,438.7 339.5,437.0 342.7,435.2 C346.0,433.4 349.3,431.6 352.6,429.3 C355.8,427.1 359.1,424.2 362.4,421.9 C365.6,419.6 368.9,417.4 372.2,415.6 C375.4,413.8 378.7,412.3 382.0,411.1 C385.3,409.9 388.5,409.1 391.8,408.3 C395.1,407.6 398.3,407.2 401.6,406.8 C404.9,406.3 408.2,406.0 411.4,405.8 C414.7,405.5 418.0,405.2 421.2,405.2 C424.5,405.2 427.8,405.2 431.1,405.8 C434.3,406.4 437.6,407.7 440.9,408.7 C444.1,409.8 447.7,410.9 450.7,412.1 C453.6,413.2 455.6,414.6 458.5,415.6 C461.4,416.6 465.2,418.2 468.2,418.0 C471.2,417.8 473.7,415.6 476.5,414.5 C479.2,413.4 481.3,412.9 484.7,411.4 C488.1,410.0 492.9,407.5 497.0,405.9 C501.1,404.3 505.2,402.8 509.4,401.8 C513.5,400.7 517.6,399.9 521.7,399.5 C525.8,399.2 529.9,399.5 534.0,399.7 C538.1,399.9 541.6,400.4 546.4,400.5 C551.2,400.7 557.3,400.7 562.8,400.7 C568.3,400.8 573.8,400.6 579.3,400.7 C584.8,400.9 590.9,401.7 595.7,401.8 C600.5,401.8 604.0,401.7 608.1,401.2 C612.2,400.6 616.0,399.7 620.4,398.5 C624.9,397.3 630.4,395.4 634.8,394.0 C639.3,392.5 643.7,391.2 647.1,389.8 C650.6,388.5 652.3,387.4 655.4,385.7 C658.5,384.0 662.2,381.6 665.7,379.6 C669.1,377.5 672.5,375.1 675.9,373.4 C679.4,371.7 683.1,370.5 686.2,369.3 C689.3,368.1 690.3,368.0 694.4,366.2 C698.6,364.4 706.6,360.0 711.3,358.3 C715.9,356.5 718.0,357.1 722.1,355.6 C726.2,354.0 731.1,351.3 735.6,348.8 C740.1,346.3 745.1,343.8 749.2,340.7 C753.2,337.5 755.9,334.3 760.0,329.8 C764.1,325.3 769.0,318.9 773.6,313.6 C778.1,308.3 783.9,301.3 787.1,297.9 C790.3,294.5 789.8,295.6 792.5,293.3 C795.2,290.9 799.7,286.9 803.4,283.8 C807.0,280.6 811.0,276.8 814.2,274.3 C817.3,271.8 819.2,270.4 822.3,268.9 C825.5,267.4 829.1,266.9 833.1,265.4 C837.2,263.8 841.7,261.5 846.7,259.4 C851.7,257.3 857.5,254.2 862.9,252.6 C868.4,251.0 873.8,250.8 879.2,249.9 C884.6,249.0 890.0,248.1 895.5,247.2 C900.9,246.3 906.7,245.1 911.7,244.5 C916.7,243.9 922.2,244.1 925.2,243.7 C928.3,243.3 927.5,242.7 930.0,242.1 C932.5,241.5 936.7,240.7 940.1,240.1 C943.4,239.6 946.8,239.1 950.1,238.7 C953.5,238.3 957.5,237.6 960.2,237.7 C962.8,237.8 963.8,238.2 966.2,239.1 C968.5,240.0 970.9,241.5 974.2,243.1 C977.6,244.8 982.3,247.0 986.3,249.2 C990.3,251.3 995.3,254.8 998.3,256.2 C1001.4,257.6 1001.7,256.9 1004.4,257.6 C1007.1,258.3 1011.1,259.3 1014.4,260.2 C1017.8,261.2 1021.1,262.3 1024.5,263.2 C1027.8,264.2 1031.2,265.0 1034.5,265.9 C1037.9,266.7 1041.2,267.2 1044.6,268.3 C1047.9,269.3 1050.9,270.6 1054.6,272.3 C1058.3,274.0 1062.6,276.1 1066.7,278.3 C1070.8,280.5 1075.3,283.2 1079.3,285.4 C1083.4,287.5 1086.9,289.4 1090.8,291.4 C1094.7,293.4 1098.8,295.2 1102.9,297.4 C1106.9,299.6 1111.2,302.3 1114.9,304.4 C1118.6,306.6 1122.3,308.9 1125.0,310.5 C1127.7,312.1 1128.7,313.2 1131.0,313.9 C1133.4,314.6 1136.3,314.3 1139.0,314.9 C1141.8,315.5 1144.8,317.0 1147.7,317.5 C1150.6,318.0 1154.3,317.9 1156.3,317.9 C1158.4,317.9 1157.8,317.5 1160.2,317.7 C1162.5,317.8 1166.5,318.0 1170.2,318.7 C1173.9,319.3 1178.2,320.8 1182.3,321.7 C1186.3,322.5 1190.3,323.0 1194.3,323.7 C1198.3,324.4 1202.7,325.0 1206.4,325.7 C1210.1,326.4 1213.1,327.4 1216.4,327.7 C1219.8,328.0 1222.8,327.5 1226.5,327.3 C1230.2,327.1 1234.5,326.9 1238.5,326.7 C1242.6,326.5 1246.9,326.8 1250.6,326.3 C1254.3,325.8 1257.3,324.6 1260.7,323.7 C1264.0,322.8 1267.7,321.7 1270.7,320.7 C1273.7,319.7 1276.4,318.4 1278.7,317.7 C1281.1,316.9 1282.1,316.2 1284.8,316.1 C1287.5,315.9 1291.8,316.7 1294.8,316.7 C1297.8,316.6 1300.2,316.2 1302.9,315.7 C1305.5,315.2 1308.2,314.5 1310.9,313.6 C1313.6,312.8 1316.3,311.6 1318.9,310.6 C1321.6,309.6 1324.3,308.8 1327.0,307.6 C1329.7,306.4 1332.6,304.9 1335.0,303.6 C1337.5,302.3 1340.6,300.2 1341.7,299.6" stroke="#1848a0" stroke-width="1.5"/>
<path d="M-3.1,575.3 L0.0,576.9 L12.3,580.9 L18.5,580.0 L23.1,573.8 L27.8,549.1 L33.9,518.3 L40.1,498.2 L43.5,494.2 L49.4,499.8 L55.5,510.6 L61.7,522.0 L67.9,530.6 L75.6,539.3 L83.3,548.5 L92.5,553.8 L100.3,563.0 L104.9,555.3 L111.1,533.7 L117.2,512.1 L121.9,504.4 L126.5,505.0 L132.6,521.4 L138.8,536.8 L146.5,550.7 L151.2,543.0 L160.4,521.4 L168.1,505.9 L175.8,499.8 L180.5,490.5 L185.1,472.0 L194.3,445.8 L200.5,437.5 L205.1,433.4 L209.8,427.3 L215.9,422.6 L219.6,413.4 L225.2,379.5 L230.9,356.7 L236.8,333.2 L241.7,321.8 L249.5,323.4 L254.0,330.8 L258.4,352.8 L264.2,396.0 L270.1,427.4 L275.0,449.9 L279.4,464.1 L283.9,460.7 L289.8,457.8 L296.6,454.4 L300.6,449.9 L305.5,446.4 L309.4,447.0 L313.7,435.2 L318.2,422.5 L322.1,414.6 L326.5,409.7 L331.0,404.8 L334.9,409.7 L338.8,414.6 L342.7,415.0 L352.6,414.6 L360.4,414.0 L365.1,407.7 L373.6,396.0 L378.1,390.5 L382.0,387.5 L386.5,394.0 L393.8,402.8 L399.7,405.8 L407.5,403.4 L416.3,402.8 L425.2,405.8 L433.6,410.1 L437.7,413.6 L446.4,412.6 L452.6,411.3 L459.5,411.7 L463.3,410.4 L467.6,403.2 L471.9,389.8 L476.5,378.5 L480.6,371.3 L484.7,365.2 L489.0,362.7 L493.3,365.2 L501.7,367.2 L510.4,370.3 L514.7,378.5 L519.0,389.8 L523.1,398.5 L527.5,405.3 L531.8,408.8 L536.1,409.4 L540.4,414.5 L544.5,421.1 L548.8,423.8 L553.2,425.8 L557.5,428.3 L561.8,423.8 L566.1,418.2 L570.2,416.6 L574.6,414.5 L578.9,412.5 L583.2,409.4 L587.5,408.4 L595.9,405.3 L600.3,404.7 L604.6,403.2 L608.9,399.1 L613.2,392.9 L617.3,379.6 L621.6,361.1 L626.0,348.7 L630.3,341.5 L634.6,338.0 L638.7,338.4 L643.0,341.5 L647.4,341.5 L651.7,336.4 L656.0,318.9 L660.1,307.6 L664.4,298.3 L668.7,291.1 L673.1,288.0 L677.4,291.1 L681.5,294.2 L685.8,290.1 L690.1,289.1 L694.4,292.2 L698.5,289.2 L707.2,282.4 L715.6,281.1 L719.9,286.5 L724.3,294.6 L728.6,300.6 L732.9,303.6 L737.0,304.1 L741.3,300.0 L745.7,291.9 L750.0,277.0 L754.1,255.3 L758.4,235.0 L762.7,213.4 L767.1,197.1 L771.4,183.6 L775.5,176.8 L780.1,174.1 L784.1,171.4 L788.5,170.0 L792.8,186.3 L797.1,201.2 L801.5,212.0 L805.5,217.4 L809.9,222.8 L814.5,216.1 L818.5,213.4 L822.9,229.6 L827.2,247.2 L831.5,262.1 L835.6,264.8 L840.2,271.0 L844.3,260.8 L848.6,258.9 L852.9,255.3 L857.3,249.9 L861.6,243.1 L865.7,236.4 L870.0,231.0 L874.3,228.3 L878.7,241.8 L883.0,252.6 L887.1,262.1 L891.4,267.5 L895.5,269.4 L899.8,269.4 L904.1,266.2 L908.5,255.3 L912.5,251.3 L917.7,248.6 L921.7,251.3 L925.5,256.7 L929.6,260.8 L938.0,261.6 L946.7,262.6 L955.1,262.8 L963.8,263.2 L970.2,267.7 L976.6,276.3 L982.3,283.3 L988.3,286.4 L994.3,285.4 L1000.4,279.3 L1006.6,274.9 L1010.8,275.3 L1015.0,278.7 L1019.4,282.3 L1023.7,285.4 L1027.9,287.8 L1032.3,289.4 L1036.5,292.4 L1040.8,299.4 L1045.0,307.5 L1049.4,315.5 L1053.6,325.2 L1057.8,332.6 L1062.3,340.6 L1066.5,352.7 L1070.7,356.3 L1074.9,353.7 L1079.3,353.7 L1083.6,349.7 L1088.8,344.6 L1092.0,348.7 L1096.4,357.7 L1100.7,364.7 L1104.9,369.8 L1109.1,373.8 L1113.5,377.2 L1117.7,378.8 L1122.0,381.8 L1126.4,387.3 L1130.6,387.9 L1136.0,371.9 L1140.1,359.9 L1144.1,347.8 L1147.1,329.7 L1150.1,305.6 L1153.1,292.5 L1156.5,286.5 L1161.2,283.1 L1165.6,282.9 L1169.4,287.5 L1173.6,291.5 L1178.4,298.6 L1182.7,299.6 L1186.9,297.6 L1190.7,303.6 L1195.3,308.6 L1199.5,310.6 L1203.6,313.6 L1208.2,317.7 L1212.4,320.1 L1216.4,320.7 L1220.7,313.6 L1225.3,303.6 L1229.5,296.6 L1233.7,285.5 L1238.5,279.5 L1242.4,282.5 L1246.6,283.5 L1250.6,284.1 L1255.6,282.5 L1259.2,278.5 L1263.5,277.9 L1267.7,274.4 L1272.5,272.8 L1276.5,275.5 L1280.8,279.5 L1285.4,289.5 L1289.6,307.6 L1293.4,317.7 L1297.6,323.7 L1302.5,330.1 L1306.5,328.7 L1310.7,323.7 L1315.3,317.7 L1319.5,313.6 L1323.6,312.6 L1327.8,311.2 L1332.4,300.6 L1336.6,285.5 L1341.1,268.0" stroke="#23232e" stroke-width="1.4"/>
<path d="M-3.1,336.3 C-2.6,336.8 -3.6,336.0 0.0,339.4 C3.6,342.7 11.8,351.1 18.5,356.3 C25.2,361.6 32.9,365.5 40.1,370.8 C47.3,376.1 54.5,382.3 61.7,388.1 C68.9,393.9 76.1,400.2 83.3,405.7 C90.5,411.2 98.2,416.6 104.9,421.1 C111.6,425.6 116.7,428.9 123.4,432.5 C130.1,436.1 137.8,439.7 145.0,442.7 C152.2,445.7 159.9,448.4 166.6,450.4 C173.3,452.5 178.9,453.8 185.1,455.0 C191.3,456.3 197.4,457.5 203.6,458.1 C209.8,458.8 215.9,458.8 222.1,459.0 C228.3,459.3 235.0,459.3 240.7,459.7 C246.4,460.2 251.2,460.8 256.4,461.7 C261.6,462.6 266.9,464.0 272.1,465.2 C277.3,466.5 282.6,467.8 287.8,469.0 C293.0,470.2 297.6,471.4 303.5,472.5 C309.4,473.6 316.6,474.6 323.1,475.4 C329.7,476.3 336.2,477.2 342.7,477.8 C349.3,478.4 355.8,478.4 362.4,479.0 C368.9,479.6 375.4,480.6 382.0,481.3 C388.5,482.1 395.1,482.9 401.6,483.3 C408.2,483.7 414.7,483.6 421.2,483.9 C427.8,484.2 435.0,484.8 440.9,485.3 C446.7,485.7 452.5,486.4 456.6,486.6 C460.6,486.9 462.3,486.7 465.0,486.8 C467.7,486.9 469.3,487.3 472.6,487.3 C475.9,487.3 480.5,487.1 484.9,486.9 C489.3,486.7 494.4,486.6 498.8,485.9 C503.2,485.2 506.1,484.2 511.1,482.9 C516.1,481.6 522.8,479.8 528.6,478.0 C534.4,476.2 541.2,473.8 546.0,472.1 C550.8,470.4 553.6,469.3 557.4,467.7 C561.2,466.1 565.1,464.0 568.7,462.5 C572.3,461.0 574.8,460.4 579.2,458.8 C583.6,457.2 589.2,455.2 595.0,453.2 C600.8,451.2 608.7,448.7 614.2,446.7 C619.7,444.7 623.0,443.0 628.2,441.0 C633.4,439.0 639.8,437.2 645.6,434.9 C651.4,432.6 657.9,429.4 663.1,427.3 C668.4,425.2 673.0,423.8 677.1,422.6 C681.2,421.4 684.1,421.2 687.6,420.0 C691.1,418.8 693.8,417.4 698.3,415.4 C702.8,413.4 709.2,410.2 714.7,408.0 C720.2,405.8 726.2,404.1 731.1,402.3 C736.0,400.5 741.0,398.2 744.0,397.0 C747.0,395.8 745.2,397.0 749.2,394.8 C753.2,392.7 761.8,387.5 768.1,384.0 C774.5,380.5 781.2,376.6 787.1,373.7 C793.0,370.9 797.9,369.3 803.4,366.9 C808.8,364.6 814.2,361.5 819.6,359.6 C825.0,357.7 829.5,357.1 835.9,355.6 C842.2,354.0 850.3,351.6 857.5,350.1 C864.8,348.7 872.9,347.7 879.2,346.9 C885.5,346.1 890.0,346.4 895.5,345.3 C900.9,344.1 906.3,341.8 911.7,340.1 C917.1,338.5 921.6,337.0 928.0,335.2 C934.4,333.5 943.1,331.4 950.1,329.6 C957.1,327.8 963.5,326.2 970.2,324.5 C976.9,322.9 983.6,321.3 990.3,319.9 C997.0,318.5 1003.7,317.3 1010.4,316.1 C1017.1,314.9 1023.8,313.8 1030.5,312.9 C1037.2,312.0 1043.9,311.1 1050.6,310.5 C1057.3,309.8 1064.0,309.4 1070.7,308.9 C1077.4,308.4 1084.8,307.9 1090.8,307.5 C1096.8,307.1 1102.2,306.6 1106.9,306.5 C1111.6,306.4 1114.9,306.7 1118.9,306.9 C1123.0,307.0 1127.0,307.5 1131.0,307.5 C1135.0,307.4 1138.8,307.0 1143.1,306.5 C1147.3,306.0 1151.1,305.7 1156.3,304.4 C1161.5,303.2 1168.6,300.5 1174.2,299.2 C1179.9,297.9 1184.9,297.3 1190.3,296.6 C1195.7,295.8 1201.4,295.2 1206.4,294.5 C1211.4,293.9 1215.8,293.3 1220.5,292.5 C1225.1,291.8 1229.5,290.8 1234.5,289.9 C1239.5,289.0 1245.2,287.9 1250.6,287.1 C1256.0,286.3 1262.7,285.4 1266.7,284.9 C1270.7,284.4 1271.4,284.2 1274.7,284.1 C1278.1,284.0 1282.4,284.0 1286.8,284.1 C1291.1,284.2 1295.8,284.7 1300.9,284.9 C1305.9,285.1 1311.9,285.4 1316.9,285.5 C1322.0,285.6 1326.9,285.6 1331.0,285.5 C1335.1,285.4 1339.9,285.0 1341.7,284.9" stroke="#1e5c22" stroke-width="1.5"/>
<path d="M-12.3,253.0 C-10.3,254.8 -5.1,260.4 0.0,263.8 C5.1,267.1 12.3,270.2 18.5,273.0 C24.7,275.9 30.6,277.9 37.0,280.7 C43.4,283.6 50.4,286.0 57.1,290.0 C63.8,294.0 70.2,299.7 77.1,304.8 C84.1,309.9 91.0,315.6 98.7,320.8 C106.4,326.1 114.1,330.9 123.4,336.3 C132.6,341.7 144.0,347.8 154.2,353.2 C164.5,358.6 175.8,364.0 185.1,368.7 C194.3,373.3 203.6,378.1 209.8,381.0 C215.9,383.9 216.3,384.1 222.1,386.2 C227.9,388.3 237.6,391.1 244.6,393.6 C251.6,396.1 257.7,398.6 264.2,401.3 C270.8,403.9 277.3,406.8 283.9,409.7 C290.4,412.6 297.0,415.6 303.5,418.5 C310.0,421.5 317.9,425.1 323.1,427.4 C328.4,429.7 331.0,430.9 334.9,432.3 C338.8,433.6 342.1,434.6 346.7,435.6 C351.2,436.6 356.5,437.3 362.4,438.2 C368.3,439.0 375.4,440.0 382.0,440.7 C388.5,441.5 395.1,442.1 401.6,442.7 C408.2,443.3 414.7,443.9 421.2,444.4 C427.8,445.0 434.6,445.3 440.9,446.0 C447.1,446.8 451.9,448.1 458.5,449.0 C465.1,449.8 473.5,450.3 480.6,450.9 C487.7,451.5 494.3,452.0 501.1,452.6 C508.0,453.2 514.8,453.9 521.7,454.6 C528.6,455.3 535.4,456.1 542.3,456.7 C549.1,457.3 556.0,457.6 562.8,458.1 C569.7,458.6 576.5,459.2 583.4,459.8 C590.2,460.3 598.8,461.1 604.0,461.4 C609.1,461.8 610.8,461.8 614.2,461.8 C617.7,461.8 619.4,461.6 624.5,461.4 C629.7,461.2 638.2,461.0 645.1,460.6 C651.9,460.2 658.8,459.7 665.7,459.2 C672.5,458.6 680.5,457.8 686.2,457.3 C691.9,456.8 695.8,456.5 700.0,456.1 C704.2,455.6 706.8,455.6 711.4,454.7 C716.0,453.8 722.3,452.2 727.8,450.6 C733.3,449.0 739.6,446.7 744.2,444.9 C748.9,443.1 751.6,441.7 755.7,439.6 C759.8,437.6 764.7,435.0 768.8,432.6 C772.9,430.2 776.9,427.2 780.2,425.2 C783.5,423.2 784.9,422.6 788.4,420.8 C791.9,419.0 796.6,417.0 801.5,414.6 C806.4,412.2 812.4,408.7 817.9,406.4 C823.4,404.1 829.5,402.5 834.3,400.6 C839.1,398.7 841.9,396.9 846.7,394.8 C851.5,392.8 857.5,390.1 862.9,388.1 C868.4,386.0 873.8,384.2 879.2,382.7 C884.6,381.1 890.0,380.2 895.5,378.6 C900.9,377.0 906.3,375.1 911.7,373.2 C917.1,371.3 921.6,369.5 928.0,367.2 C934.4,365.0 943.1,361.9 950.1,359.7 C957.1,357.5 963.5,356.3 970.2,354.1 C976.9,351.9 983.6,348.9 990.3,346.7 C997.0,344.4 1003.7,342.4 1010.4,340.6 C1017.1,338.9 1023.8,337.2 1030.5,336.2 C1037.2,335.2 1043.9,335.1 1050.6,334.6 C1057.3,334.1 1065.3,333.5 1070.7,333.2 C1076.1,332.9 1078.4,332.9 1082.8,333.0 C1087.1,333.1 1092.1,333.4 1096.8,333.6 C1101.5,333.8 1105.2,334.4 1110.9,334.2 C1116.6,334.0 1125.0,333.5 1131.0,332.6 C1137.0,331.6 1142.4,329.6 1147.1,328.6 C1151.8,327.6 1155.3,326.9 1159.1,326.6 C1163.0,326.2 1165.0,326.9 1170.2,326.3 C1175.4,325.8 1183.6,324.3 1190.3,323.3 C1197.0,322.3 1203.7,321.1 1210.4,320.1 C1217.1,319.1 1223.8,318.2 1230.5,317.3 C1237.2,316.4 1243.9,315.5 1250.6,314.6 C1257.3,313.8 1264.0,312.8 1270.7,312.0 C1277.4,311.3 1284.1,310.7 1290.8,310.0 C1297.5,309.4 1304.2,308.7 1310.9,308.0 C1317.6,307.4 1325.9,306.7 1331.0,306.2 C1336.1,305.7 1339.9,305.4 1341.7,305.2" stroke="#aa00ff" stroke-width="1.6"/>
</g>
<g clip-path="url(#cm)" shape-rendering="crispEdges">
<rect x="1.00" y="552.21" width="1.00" height="20.05" fill="#26a69a"/>
<rect x="0.00" y="556.84" width="3.00" height="14.50" fill="#26a69a"/>
<rect x="5.00" y="603.11" width="1.00" height="13.88" fill="#26a69a"/>
<rect x="4.00" y="606.20" width="3.00" height="10.18" fill="#26a69a"/>
<rect x="9.00" y="583.06" width="1.00" height="18.51" fill="#26a69a"/>
<rect x="8.00" y="591.70" width="3.00" height="5.24" fill="#26a69a"/>
<rect x="13.00" y="562.08" width="1.00" height="33.32" fill="#26a69a"/>
<rect x="12.00" y="570.72" width="3.00" height="24.68" fill="#26a69a"/>
<rect x="18.00" y="559.92" width="1.00" height="15.42" fill="#26a69a"/>
<rect x="17.00" y="566.71" width="3.00" height="4.63" fill="#26a69a"/>
<rect x="22.00" y="535.24" width="1.00" height="30.23" fill="#26a69a"/>
<rect x="21.00" y="546.66" width="3.00" height="18.82" fill="#26a69a"/>
<rect x="26.00" y="492.98" width="1.00" height="42.88" fill="#26a69a"/>
<rect x="25.00" y="498.84" width="3.00" height="27.15" fill="#26a69a"/>
<rect x="31.00" y="478.17" width="1.00" height="18.51" fill="#ef5350"/>
<rect x="30.00" y="486.50" width="3.00" height="4.63" fill="#ef5350"/>
<rect x="35.00" y="460.28" width="1.00" height="29.31" fill="#26a69a"/>
<rect x="34.00" y="471.08" width="3.00" height="18.51" fill="#26a69a"/>
<rect x="39.00" y="454.11" width="1.00" height="36.40" fill="#ef5350"/>
<rect x="38.00" y="477.56" width="3.00" height="4.32" fill="#ef5350"/>
<rect x="43.00" y="481.26" width="1.00" height="39.49" fill="#ef5350"/>
<rect x="42.00" y="481.26" width="3.00" height="36.09" fill="#ef5350"/>
<rect x="48.00" y="516.74" width="1.00" height="26.84" fill="#ef5350"/>
<rect x="47.00" y="516.74" width="3.00" height="13.26" fill="#ef5350"/>
<rect x="52.00" y="505.94" width="1.00" height="29.92" fill="#ef5350"/>
<rect x="51.00" y="518.89" width="3.00" height="10.18" fill="#ef5350"/>
<rect x="56.00" y="515.19" width="1.00" height="13.88" fill="#ef5350"/>
<rect x="55.00" y="518.89" width="3.00" height="8.64" fill="#ef5350"/>
<rect x="61.00" y="505.01" width="1.00" height="19.43" fill="#ef5350"/>
<rect x="60.00" y="516.74" width="3.00" height="4.63" fill="#ef5350"/>
<rect x="65.00" y="517.66" width="1.00" height="31.47" fill="#ef5350"/>
<rect x="64.00" y="519.82" width="3.00" height="21.59" fill="#ef5350"/>
<rect x="69.00" y="540.49" width="1.00" height="15.42" fill="#ef5350"/>
<rect x="68.00" y="542.96" width="3.00" height="11.41" fill="#ef5350"/>
<rect x="73.00" y="539.87" width="1.00" height="16.97" fill="#26a69a"/>
<rect x="72.00" y="551.59" width="3.00" height="2.78" fill="#26a69a"/>
<rect x="78.00" y="523.52" width="1.00" height="25.60" fill="#26a69a"/>
<rect x="77.00" y="538.33" width="3.00" height="9.25" fill="#26a69a"/>
<rect x="82.00" y="532.78" width="1.00" height="19.43" fill="#ef5350"/>
<rect x="81.00" y="532.78" width="3.00" height="13.26" fill="#ef5350"/>
<rect x="86.00" y="547.58" width="1.00" height="13.88" fill="#ef5350"/>
<rect x="85.00" y="547.58" width="3.00" height="12.34" fill="#ef5350"/>
<rect x="91.00" y="541.41" width="1.00" height="24.68" fill="#ef5350"/>
<rect x="90.00" y="558.38" width="3.00" height="6.17" fill="#ef5350"/>
<rect x="95.00" y="553.75" width="1.00" height="26.22" fill="#ef5350"/>
<rect x="94.00" y="553.75" width="3.00" height="25.60" fill="#ef5350"/>
<rect x="99.00" y="560.85" width="1.00" height="19.13" fill="#26a69a"/>
<rect x="98.00" y="560.85" width="3.00" height="18.51" fill="#26a69a"/>
<rect x="103.00" y="516.74" width="1.00" height="49.36" fill="#26a69a"/>
<rect x="102.00" y="519.82" width="3.00" height="43.19" fill="#26a69a"/>
<rect x="108.00" y="475.09" width="1.00" height="47.81" fill="#26a69a"/>
<rect x="107.00" y="508.10" width="3.00" height="13.26" fill="#26a69a"/>
<rect x="112.00" y="488.97" width="1.00" height="26.22" fill="#26a69a"/>
<rect x="111.00" y="498.23" width="3.00" height="1.54" fill="#26a69a"/>
<rect x="116.00" y="486.81" width="1.00" height="12.96" fill="#26a69a"/>
<rect x="115.00" y="492.67" width="3.00" height="4.63" fill="#26a69a"/>
<rect x="120.00" y="488.97" width="1.00" height="13.88" fill="#ef5350"/>
<rect x="119.00" y="489.59" width="3.00" height="10.18" fill="#ef5350"/>
<rect x="125.00" y="498.84" width="1.00" height="22.52" fill="#ef5350"/>
<rect x="124.00" y="498.84" width="3.00" height="21.90" fill="#ef5350"/>
<rect x="129.00" y="529.07" width="1.00" height="48.43" fill="#ef5350"/>
<rect x="128.00" y="532.78" width="3.00" height="13.88" fill="#ef5350"/>
<rect x="133.00" y="547.58" width="1.00" height="15.42" fill="#ef5350"/>
<rect x="132.00" y="547.58" width="3.00" height="10.80" fill="#ef5350"/>
<rect x="138.00" y="547.58" width="1.00" height="12.34" fill="#26a69a"/>
<rect x="137.00" y="552.21" width="3.00" height="6.17" fill="#26a69a"/>
<rect x="142.00" y="544.50" width="1.00" height="15.42" fill="#ef5350"/>
<rect x="141.00" y="544.50" width="3.00" height="13.88" fill="#ef5350"/>
<rect x="146.00" y="532.78" width="1.00" height="25.60" fill="#26a69a"/>
<rect x="145.00" y="532.78" width="3.00" height="23.14" fill="#26a69a"/>
<rect x="150.00" y="472.01" width="1.00" height="64.78" fill="#26a69a"/>
<rect x="149.00" y="508.10" width="3.00" height="27.15" fill="#26a69a"/>
<rect x="155.00" y="487.43" width="1.00" height="22.21" fill="#ef5350"/>
<rect x="154.00" y="487.43" width="3.00" height="15.42" fill="#ef5350"/>
<rect x="159.00" y="488.97" width="1.00" height="20.05" fill="#ef5350"/>
<rect x="158.00" y="498.84" width="3.00" height="8.64" fill="#ef5350"/>
<rect x="163.00" y="495.14" width="1.00" height="12.96" fill="#ef5350"/>
<rect x="162.00" y="499.77" width="3.00" height="5.24" fill="#ef5350"/>
<rect x="168.00" y="501.31" width="1.00" height="16.97" fill="#26a69a"/>
<rect x="167.00" y="502.85" width="3.00" height="5.24" fill="#26a69a"/>
<rect x="172.00" y="457.51" width="1.00" height="48.43" fill="#26a69a"/>
<rect x="171.00" y="484.34" width="3.00" height="18.51" fill="#26a69a"/>
<rect x="176.00" y="473.55" width="1.00" height="37.94" fill="#ef5350"/>
<rect x="175.00" y="487.43" width="3.00" height="15.42" fill="#ef5350"/>
<rect x="180.00" y="430.36" width="1.00" height="66.32" fill="#26a69a"/>
<rect x="179.00" y="430.36" width="3.00" height="61.70" fill="#26a69a"/>
<rect x="185.00" y="398.89" width="1.00" height="44.42" fill="#ef5350"/>
<rect x="184.00" y="432.52" width="3.00" height="10.18" fill="#ef5350"/>
<rect x="189.00" y="427.28" width="1.00" height="15.42" fill="#26a69a"/>
<rect x="188.00" y="427.28" width="3.00" height="13.88" fill="#26a69a"/>
<rect x="193.00" y="423.57" width="1.00" height="10.80" fill="#ef5350"/>
<rect x="192.00" y="424.81" width="3.00" height="8.64" fill="#ef5350"/>
<rect x="198.00" y="400.13" width="1.00" height="42.57" fill="#ef5350"/>
<rect x="197.00" y="430.98" width="3.00" height="10.18" fill="#ef5350"/>
<rect x="202.00" y="431.90" width="1.00" height="11.41" fill="#ef5350"/>
<rect x="201.00" y="432.52" width="3.00" height="8.64" fill="#ef5350"/>
<rect x="206.00" y="412.47" width="1.00" height="27.15" fill="#26a69a"/>
<rect x="205.00" y="413.39" width="3.00" height="25.60" fill="#26a69a"/>
<rect x="210.00" y="383.47" width="1.00" height="32.08" fill="#26a69a"/>
<rect x="209.00" y="405.06" width="3.00" height="5.24" fill="#26a69a"/>
<rect x="215.00" y="394.88" width="1.00" height="23.14" fill="#ef5350"/>
<rect x="214.00" y="405.06" width="3.00" height="11.41" fill="#ef5350"/>
<rect x="219.00" y="377.92" width="1.00" height="23.14" fill="#26a69a"/>
<rect x="218.00" y="383.47" width="3.00" height="17.58" fill="#26a69a"/>
<rect x="223.00" y="309.13" width="1.00" height="76.50" fill="#26a69a"/>
<rect x="222.00" y="323.32" width="3.00" height="61.39" fill="#26a69a"/>
<rect x="228.00" y="309.04" width="1.00" height="29.63" fill="#ef5350"/>
<rect x="227.00" y="323.36" width="3.00" height="13.74" fill="#ef5350"/>
<rect x="232.00" y="309.04" width="1.00" height="27.67" fill="#26a69a"/>
<rect x="231.00" y="313.94" width="3.00" height="22.76" fill="#26a69a"/>
<rect x="236.00" y="309.04" width="1.00" height="21.19" fill="#26a69a"/>
<rect x="235.00" y="311.19" width="3.00" height="13.15" fill="#26a69a"/>
<rect x="240.00" y="308.05" width="1.00" height="17.27" fill="#ef5350"/>
<rect x="239.00" y="309.04" width="3.00" height="16.29" fill="#ef5350"/>
<rect x="245.00" y="313.94" width="1.00" height="28.06" fill="#ef5350"/>
<rect x="244.00" y="313.94" width="3.00" height="9.42" fill="#ef5350"/>
<rect x="249.00" y="323.36" width="1.00" height="36.30" fill="#ef5350"/>
<rect x="248.00" y="323.36" width="3.00" height="27.08" fill="#ef5350"/>
<rect x="253.00" y="337.10" width="1.00" height="37.68" fill="#26a69a"/>
<rect x="252.00" y="341.02" width="3.00" height="15.70" fill="#26a69a"/>
<rect x="257.00" y="338.08" width="1.00" height="77.51" fill="#ef5350"/>
<rect x="256.00" y="353.19" width="3.00" height="62.40" fill="#ef5350"/>
<rect x="262.00" y="445.03" width="1.00" height="47.49" fill="#ef5350"/>
<rect x="261.00" y="445.03" width="3.00" height="47.49" fill="#ef5350"/>
<rect x="266.00" y="422.46" width="1.00" height="61.82" fill="#26a69a"/>
<rect x="265.00" y="436.79" width="3.00" height="47.49" fill="#26a69a"/>
<rect x="270.00" y="437.18" width="1.00" height="56.32" fill="#ef5350"/>
<rect x="269.00" y="437.18" width="3.00" height="23.55" fill="#ef5350"/>
<rect x="275.00" y="446.01" width="1.00" height="35.72" fill="#26a69a"/>
<rect x="274.00" y="456.80" width="3.00" height="24.92" fill="#26a69a"/>
<rect x="279.00" y="462.69" width="1.00" height="19.04" fill="#26a69a"/>
<rect x="278.00" y="472.50" width="3.00" height="9.22" fill="#26a69a"/>
<rect x="283.00" y="446.01" width="1.00" height="35.72" fill="#26a69a"/>
<rect x="282.00" y="460.73" width="3.00" height="18.05" fill="#26a69a"/>
<rect x="287.00" y="446.01" width="1.00" height="20.61" fill="#26a69a"/>
<rect x="286.00" y="446.01" width="3.00" height="1.00" fill="#26a69a"/>
<rect x="292.00" y="415.59" width="1.00" height="38.27" fill="#ef5350"/>
<rect x="291.00" y="434.24" width="3.00" height="12.17" fill="#ef5350"/>
<rect x="296.00" y="440.12" width="1.00" height="10.79" fill="#26a69a"/>
<rect x="295.00" y="446.01" width="3.00" height="1.00" fill="#26a69a"/>
<rect x="300.00" y="440.12" width="1.00" height="13.74" fill="#ef5350"/>
<rect x="299.00" y="440.12" width="3.00" height="8.83" fill="#ef5350"/>
<rect x="305.00" y="418.54" width="1.00" height="32.77" fill="#26a69a"/>
<rect x="304.00" y="442.09" width="3.00" height="6.87" fill="#26a69a"/>
<rect x="309.00" y="422.46" width="1.00" height="28.45" fill="#26a69a"/>
<rect x="308.00" y="446.40" width="3.00" height="3.53" fill="#26a69a"/>
<rect x="313.00" y="384.19" width="1.00" height="64.76" fill="#26a69a"/>
<rect x="312.00" y="384.19" width="3.00" height="64.76" fill="#26a69a"/>
<rect x="317.00" y="369.08" width="1.00" height="34.73" fill="#ef5350"/>
<rect x="316.00" y="369.08" width="3.00" height="29.44" fill="#ef5350"/>
<rect x="322.00" y="394.01" width="1.00" height="15.70" fill="#ef5350"/>
<rect x="321.00" y="397.93" width="3.00" height="5.89" fill="#ef5350"/>
<rect x="326.00" y="403.82" width="1.00" height="28.85" fill="#ef5350"/>
<rect x="325.00" y="415.00" width="3.00" height="3.53" fill="#ef5350"/>
<rect x="330.00" y="404.80" width="1.00" height="23.55" fill="#26a69a"/>
<rect x="329.00" y="418.14" width="3.00" height="7.26" fill="#26a69a"/>
<rect x="335.00" y="390.08" width="1.00" height="23.94" fill="#ef5350"/>
<rect x="334.00" y="390.08" width="3.00" height="23.94" fill="#ef5350"/>
<rect x="339.00" y="406.76" width="1.00" height="17.07" fill="#ef5350"/>
<rect x="338.00" y="411.67" width="3.00" height="10.79" fill="#ef5350"/>
<rect x="343.00" y="406.17" width="1.00" height="40.23" fill="#26a69a"/>
<rect x="342.00" y="406.17" width="3.00" height="16.29" fill="#26a69a"/>
<rect x="347.00" y="397.34" width="1.00" height="21.19" fill="#ef5350"/>
<rect x="346.00" y="406.17" width="3.00" height="11.38" fill="#ef5350"/>
<rect x="352.00" y="399.89" width="1.00" height="18.64" fill="#ef5350"/>
<rect x="351.00" y="414.61" width="3.00" height="3.92" fill="#ef5350"/>
<rect x="356.00" y="406.17" width="1.00" height="12.36" fill="#ef5350"/>
<rect x="355.00" y="412.06" width="3.00" height="6.48" fill="#ef5350"/>
<rect x="360.00" y="406.17" width="1.00" height="12.36" fill="#26a69a"/>
<rect x="359.00" y="407.74" width="3.00" height="10.79" fill="#26a69a"/>
<rect x="364.00" y="361.04" width="1.00" height="40.43" fill="#26a69a"/>
<rect x="363.00" y="378.31" width="3.00" height="23.16" fill="#26a69a"/>
<rect x="369.00" y="362.22" width="1.00" height="28.26" fill="#ef5350"/>
<rect x="368.00" y="378.31" width="3.00" height="11.77" fill="#ef5350"/>
<rect x="373.00" y="378.31" width="1.00" height="33.36" fill="#26a69a"/>
<rect x="372.00" y="387.14" width="3.00" height="2.94" fill="#26a69a"/>
<rect x="377.00" y="381.25" width="1.00" height="13.74" fill="#ef5350"/>
<rect x="376.00" y="386.16" width="3.00" height="4.32" fill="#ef5350"/>
<rect x="382.00" y="394.01" width="1.00" height="21.59" fill="#26a69a"/>
<rect x="381.00" y="394.01" width="3.00" height="21.59" fill="#26a69a"/>
<rect x="386.00" y="394.01" width="1.00" height="17.07" fill="#ef5350"/>
<rect x="385.00" y="394.01" width="3.00" height="17.07" fill="#ef5350"/>
<rect x="390.00" y="401.86" width="1.00" height="16.68" fill="#26a69a"/>
<rect x="389.00" y="408.72" width="3.00" height="2.35" fill="#26a69a"/>
<rect x="394.00" y="407.74" width="1.00" height="10.79" fill="#26a69a"/>
<rect x="393.00" y="412.06" width="3.00" height="3.53" fill="#26a69a"/>
<rect x="399.00" y="400.29" width="1.00" height="9.42" fill="#26a69a"/>
<rect x="398.00" y="400.29" width="3.00" height="9.42" fill="#26a69a"/>
<rect x="403.00" y="381.25" width="1.00" height="20.21" fill="#26a69a"/>
<rect x="402.00" y="397.34" width="3.00" height="2.94" fill="#26a69a"/>
<rect x="407.00" y="387.14" width="1.00" height="13.74" fill="#ef5350"/>
<rect x="406.00" y="394.40" width="3.00" height="3.14" fill="#ef5350"/>
<rect x="412.00" y="397.34" width="1.00" height="15.31" fill="#ef5350"/>
<rect x="411.00" y="397.34" width="3.00" height="12.36" fill="#ef5350"/>
<rect x="416.00" y="400.29" width="1.00" height="11.38" fill="#26a69a"/>
<rect x="415.00" y="408.14" width="3.00" height="1.57" fill="#26a69a"/>
<rect x="420.00" y="403.82" width="1.00" height="11.19" fill="#ef5350"/>
<rect x="419.00" y="407.74" width="3.00" height="4.91" fill="#ef5350"/>
<rect x="424.00" y="404.80" width="1.00" height="9.81" fill="#ef5350"/>
<rect x="423.00" y="406.17" width="3.00" height="3.53" fill="#ef5350"/>
<rect x="429.00" y="403.82" width="1.00" height="11.77" fill="#ef5350"/>
<rect x="428.00" y="409.12" width="3.00" height="2.55" fill="#ef5350"/>
<rect x="433.00" y="411.67" width="1.00" height="6.87" fill="#ef5350"/>
<rect x="432.00" y="411.67" width="3.00" height="5.49" fill="#ef5350"/>
<rect x="437.00" y="412.65" width="1.00" height="5.89" fill="#26a69a"/>
<rect x="436.00" y="415.00" width="3.00" height="2.55" fill="#26a69a"/>
<rect x="442.00" y="397.93" width="1.00" height="17.66" fill="#26a69a"/>
<rect x="441.00" y="408.72" width="3.00" height="6.87" fill="#26a69a"/>
<rect x="446.00" y="400.29" width="1.00" height="12.36" fill="#26a69a"/>
<rect x="445.00" y="407.74" width="3.00" height="2.35" fill="#26a69a"/>
<rect x="450.00" y="400.29" width="1.00" height="7.46" fill="#ef5350"/>
<rect x="449.00" y="400.29" width="3.00" height="6.48" fill="#ef5350"/>
<rect x="454.00" y="404.41" width="1.00" height="16.48" fill="#ef5350"/>
<rect x="453.00" y="404.41" width="3.00" height="11.19" fill="#ef5350"/>
<rect x="459.00" y="411.67" width="1.00" height="9.22" fill="#26a69a"/>
<rect x="458.00" y="413.63" width="3.00" height="1.96" fill="#26a69a"/>
<rect x="463.00" y="405.27" width="1.00" height="11.31" fill="#26a69a"/>
<rect x="462.00" y="410.41" width="3.00" height="5.14" fill="#26a69a"/>
<rect x="467.00" y="361.05" width="1.00" height="50.39" fill="#26a69a"/>
<rect x="466.00" y="379.56" width="3.00" height="28.79" fill="#26a69a"/>
<rect x="471.00" y="338.43" width="1.00" height="25.71" fill="#ef5350"/>
<rect x="470.00" y="354.88" width="3.00" height="2.06" fill="#ef5350"/>
<rect x="476.00" y="341.93" width="1.00" height="17.07" fill="#ef5350"/>
<rect x="475.00" y="341.93" width="3.00" height="15.01" fill="#ef5350"/>
<rect x="480.00" y="346.66" width="1.00" height="26.12" fill="#ef5350"/>
<rect x="479.00" y="355.91" width="3.00" height="12.34" fill="#ef5350"/>
<rect x="484.00" y="352.83" width="1.00" height="17.48" fill="#26a69a"/>
<rect x="483.00" y="364.14" width="3.00" height="5.14" fill="#26a69a"/>
<rect x="489.00" y="362.08" width="1.00" height="8.23" fill="#ef5350"/>
<rect x="488.00" y="364.14" width="3.00" height="4.11" fill="#ef5350"/>
<rect x="493.00" y="346.66" width="1.00" height="23.03" fill="#26a69a"/>
<rect x="492.00" y="366.20" width="3.00" height="2.06" fill="#26a69a"/>
<rect x="497.00" y="352.83" width="1.00" height="12.34" fill="#ef5350"/>
<rect x="496.00" y="352.83" width="3.00" height="10.28" fill="#ef5350"/>
<rect x="501.00" y="352.83" width="1.00" height="28.79" fill="#ef5350"/>
<rect x="500.00" y="352.83" width="3.00" height="16.45" fill="#ef5350"/>
<rect x="506.00" y="354.88" width="1.00" height="21.59" fill="#ef5350"/>
<rect x="505.00" y="367.22" width="3.00" height="8.23" fill="#ef5350"/>
<rect x="510.00" y="369.28" width="1.00" height="12.34" fill="#ef5350"/>
<rect x="509.00" y="374.42" width="3.00" height="4.73" fill="#ef5350"/>
<rect x="514.00" y="378.12" width="1.00" height="37.43" fill="#ef5350"/>
<rect x="513.00" y="378.12" width="3.00" height="34.34" fill="#ef5350"/>
<rect x="519.00" y="405.89" width="1.00" height="14.81" fill="#26a69a"/>
<rect x="518.00" y="408.77" width="3.00" height="3.70" fill="#26a69a"/>
<rect x="523.00" y="403.21" width="1.00" height="13.37" fill="#ef5350"/>
<rect x="522.00" y="409.38" width="3.00" height="3.08" fill="#ef5350"/>
<rect x="527.00" y="406.30" width="1.00" height="17.48" fill="#26a69a"/>
<rect x="526.00" y="406.30" width="3.00" height="3.08" fill="#26a69a"/>
<rect x="531.00" y="401.16" width="1.00" height="16.45" fill="#26a69a"/>
<rect x="530.00" y="405.89" width="3.00" height="9.67" fill="#26a69a"/>
<rect x="536.00" y="409.38" width="1.00" height="8.23" fill="#26a69a"/>
<rect x="535.00" y="413.91" width="3.00" height="1.65" fill="#26a69a"/>
<rect x="540.00" y="413.50" width="1.00" height="18.10" fill="#ef5350"/>
<rect x="539.00" y="413.50" width="3.00" height="18.10" fill="#ef5350"/>
<rect x="544.00" y="424.81" width="1.00" height="20.98" fill="#ef5350"/>
<rect x="543.00" y="430.98" width="3.00" height="12.75" fill="#ef5350"/>
<rect x="549.00" y="418.02" width="1.00" height="49.56" fill="#26a69a"/>
<rect x="548.00" y="418.02" width="3.00" height="46.27" fill="#26a69a"/>
<rect x="553.00" y="397.04" width="1.00" height="21.59" fill="#ef5350"/>
<rect x="552.00" y="399.51" width="3.00" height="18.51" fill="#ef5350"/>
<rect x="557.00" y="414.52" width="1.00" height="13.37" fill="#ef5350"/>
<rect x="556.00" y="416.58" width="3.00" height="9.25" fill="#ef5350"/>
<rect x="561.00" y="403.83" width="1.00" height="22.01" fill="#26a69a"/>
<rect x="560.00" y="408.77" width="3.00" height="16.45" fill="#26a69a"/>
<rect x="566.00" y="409.38" width="1.00" height="16.45" fill="#ef5350"/>
<rect x="565.00" y="409.38" width="3.00" height="7.20" fill="#ef5350"/>
<rect x="570.00" y="410.41" width="1.00" height="13.37" fill="#26a69a"/>
<rect x="569.00" y="414.94" width="3.00" height="2.06" fill="#26a69a"/>
<rect x="574.00" y="393.96" width="1.00" height="26.74" fill="#26a69a"/>
<rect x="573.00" y="412.47" width="3.00" height="6.17" fill="#26a69a"/>
<rect x="578.00" y="388.82" width="1.00" height="26.74" fill="#26a69a"/>
<rect x="577.00" y="389.85" width="3.00" height="25.71" fill="#26a69a"/>
<rect x="583.00" y="371.95" width="1.00" height="37.43" fill="#ef5350"/>
<rect x="582.00" y="384.09" width="3.00" height="25.30" fill="#ef5350"/>
<rect x="587.00" y="387.38" width="1.00" height="23.03" fill="#26a69a"/>
<rect x="586.00" y="407.33" width="3.00" height="2.06" fill="#26a69a"/>
<rect x="591.00" y="397.04" width="1.00" height="11.72" fill="#26a69a"/>
<rect x="590.00" y="404.24" width="3.00" height="4.11" fill="#26a69a"/>
<rect x="596.00" y="397.04" width="1.00" height="11.31" fill="#26a69a"/>
<rect x="595.00" y="403.21" width="3.00" height="1.44" fill="#26a69a"/>
<rect x="600.00" y="387.38" width="1.00" height="28.17" fill="#ef5350"/>
<rect x="599.00" y="387.38" width="3.00" height="25.09" fill="#ef5350"/>
<rect x="604.00" y="389.85" width="1.00" height="18.92" fill="#26a69a"/>
<rect x="603.00" y="394.99" width="3.00" height="11.31" fill="#26a69a"/>
<rect x="608.00" y="355.91" width="1.00" height="40.10" fill="#26a69a"/>
<rect x="607.00" y="374.83" width="3.00" height="20.15" fill="#26a69a"/>
<rect x="613.00" y="353.24" width="1.00" height="28.38" fill="#ef5350"/>
<rect x="612.00" y="374.83" width="3.00" height="4.11" fill="#ef5350"/>
<rect x="617.00" y="328.15" width="1.00" height="50.80" fill="#26a69a"/>
<rect x="616.00" y="338.02" width="3.00" height="40.93" fill="#26a69a"/>
<rect x="621.00" y="303.06" width="1.00" height="47.71" fill="#26a69a"/>
<rect x="620.00" y="325.06" width="3.00" height="9.25" fill="#26a69a"/>
<rect x="626.00" y="321.98" width="1.00" height="25.71" fill="#ef5350"/>
<rect x="625.00" y="321.98" width="3.00" height="9.67" fill="#ef5350"/>
<rect x="630.00" y="328.15" width="1.00" height="28.38" fill="#ef5350"/>
<rect x="629.00" y="331.23" width="3.00" height="13.37" fill="#ef5350"/>
<rect x="634.00" y="344.19" width="1.00" height="9.67" fill="#ef5350"/>
<rect x="633.00" y="347.07" width="3.00" height="3.70" fill="#ef5350"/>
<rect x="638.00" y="324.04" width="1.00" height="32.49" fill="#26a69a"/>
<rect x="637.00" y="338.43" width="3.00" height="9.25" fill="#26a69a"/>
<rect x="643.00" y="325.06" width="1.00" height="19.54" fill="#ef5350"/>
<rect x="642.00" y="325.06" width="3.00" height="18.51" fill="#ef5350"/>
<rect x="647.00" y="338.43" width="1.00" height="40.10" fill="#26a69a"/>
<rect x="646.00" y="338.43" width="3.00" height="40.10" fill="#26a69a"/>
<rect x="651.00" y="269.13" width="1.00" height="83.70" fill="#26a69a"/>
<rect x="650.00" y="282.90" width="3.00" height="55.53" fill="#26a69a"/>
<rect x="656.00" y="275.09" width="1.00" height="18.10" fill="#ef5350"/>
<rect x="655.00" y="281.88" width="3.00" height="1.44" fill="#ef5350"/>
<rect x="660.00" y="282.90" width="1.00" height="14.81" fill="#ef5350"/>
<rect x="659.00" y="282.90" width="3.00" height="14.81" fill="#ef5350"/>
<rect x="664.00" y="297.30" width="1.00" height="16.04" fill="#ef5350"/>
<rect x="663.00" y="297.30" width="3.00" height="13.37" fill="#ef5350"/>
<rect x="668.00" y="280.44" width="1.00" height="26.12" fill="#26a69a"/>
<rect x="667.00" y="285.99" width="3.00" height="20.57" fill="#26a69a"/>
<rect x="673.00" y="253.70" width="1.00" height="37.43" fill="#26a69a"/>
<rect x="672.00" y="263.98" width="3.00" height="27.15" fill="#26a69a"/>
<rect x="677.00" y="263.98" width="1.00" height="86.79" fill="#ef5350"/>
<rect x="676.00" y="263.98" width="3.00" height="46.68" fill="#ef5350"/>
<rect x="681.00" y="294.22" width="1.00" height="22.62" fill="#26a69a"/>
<rect x="680.00" y="303.06" width="3.00" height="13.16" fill="#26a69a"/>
<rect x="685.00" y="274.27" width="1.00" height="32.29" fill="#26a69a"/>
<rect x="684.00" y="284.96" width="3.00" height="18.92" fill="#26a69a"/>
<rect x="690.00" y="274.27" width="1.00" height="19.33" fill="#26a69a"/>
<rect x="689.00" y="282.49" width="3.00" height="1.44" fill="#26a69a"/>
<rect x="694.00" y="262.75" width="1.00" height="20.15" fill="#ef5350"/>
<rect x="693.00" y="275.09" width="3.00" height="3.29" fill="#ef5350"/>
<rect x="698.00" y="278.36" width="1.00" height="25.73" fill="#ef5350"/>
<rect x="697.00" y="278.36" width="3.00" height="13.54" fill="#ef5350"/>
<rect x="703.00" y="268.34" width="1.00" height="32.23" fill="#26a69a"/>
<rect x="702.00" y="278.36" width="3.00" height="13.54" fill="#26a69a"/>
<rect x="707.00" y="266.72" width="1.00" height="33.86" fill="#26a69a"/>
<rect x="706.00" y="266.72" width="3.00" height="11.65" fill="#26a69a"/>
<rect x="711.00" y="266.72" width="1.00" height="21.13" fill="#26a69a"/>
<rect x="710.00" y="270.78" width="3.00" height="17.07" fill="#26a69a"/>
<rect x="715.00" y="270.78" width="1.00" height="23.84" fill="#ef5350"/>
<rect x="714.00" y="270.78" width="3.00" height="21.13" fill="#ef5350"/>
<rect x="720.00" y="271.59" width="1.00" height="104.83" fill="#ef5350"/>
<rect x="719.00" y="293.80" width="3.00" height="22.48" fill="#ef5350"/>
<rect x="724.00" y="304.10" width="1.00" height="12.19" fill="#ef5350"/>
<rect x="723.00" y="304.10" width="3.00" height="11.65" fill="#ef5350"/>
<rect x="728.00" y="302.74" width="1.00" height="16.79" fill="#26a69a"/>
<rect x="727.00" y="302.74" width="3.00" height="12.19" fill="#26a69a"/>
<rect x="733.00" y="282.43" width="1.00" height="20.32" fill="#26a69a"/>
<rect x="732.00" y="290.55" width="3.00" height="4.06" fill="#26a69a"/>
<rect x="737.00" y="285.14" width="1.00" height="14.90" fill="#ef5350"/>
<rect x="736.00" y="285.14" width="3.00" height="6.77" fill="#ef5350"/>
<rect x="741.00" y="283.78" width="1.00" height="35.76" fill="#26a69a"/>
<rect x="740.00" y="290.55" width="3.00" height="1.35" fill="#26a69a"/>
<rect x="745.00" y="264.01" width="1.00" height="30.61" fill="#26a69a"/>
<rect x="744.00" y="272.13" width="3.00" height="22.48" fill="#26a69a"/>
<rect x="750.00" y="226.90" width="1.00" height="45.24" fill="#26a69a"/>
<rect x="749.00" y="237.73" width="3.00" height="34.40" fill="#26a69a"/>
<rect x="754.00" y="205.23" width="1.00" height="25.73" fill="#26a69a"/>
<rect x="753.00" y="213.35" width="3.00" height="16.79" fill="#26a69a"/>
<rect x="758.00" y="168.66" width="1.00" height="44.70" fill="#26a69a"/>
<rect x="757.00" y="172.72" width="3.00" height="40.63" fill="#26a69a"/>
<rect x="763.00" y="161.88" width="1.00" height="21.67" fill="#ef5350"/>
<rect x="762.00" y="170.82" width="3.00" height="11.38" fill="#ef5350"/>
<rect x="767.00" y="172.72" width="1.00" height="71.78" fill="#ef5350"/>
<rect x="766.00" y="178.68" width="3.00" height="6.23" fill="#ef5350"/>
<rect x="771.00" y="166.76" width="1.00" height="28.98" fill="#ef5350"/>
<rect x="770.00" y="170.82" width="3.00" height="5.15" fill="#ef5350"/>
<rect x="775.00" y="119.90" width="1.00" height="46.86" fill="#26a69a"/>
<rect x="774.00" y="159.99" width="3.00" height="5.96" fill="#26a69a"/>
<rect x="780.00" y="136.96" width="1.00" height="39.01" fill="#26a69a"/>
<rect x="779.00" y="161.07" width="3.00" height="14.36" fill="#26a69a"/>
<rect x="784.00" y="163.24" width="1.00" height="13.54" fill="#26a69a"/>
<rect x="783.00" y="170.82" width="3.00" height="1.90" fill="#26a69a"/>
<rect x="788.00" y="150.51" width="1.00" height="28.98" fill="#ef5350"/>
<rect x="787.00" y="150.51" width="3.00" height="25.46" fill="#ef5350"/>
<rect x="793.00" y="174.89" width="1.00" height="93.45" fill="#ef5350"/>
<rect x="792.00" y="174.89" width="3.00" height="93.45" fill="#ef5350"/>
<rect x="797.00" y="222.83" width="1.00" height="52.01" fill="#26a69a"/>
<rect x="796.00" y="232.31" width="3.00" height="29.80" fill="#26a69a"/>
<rect x="801.00" y="201.16" width="1.00" height="17.61" fill="#ef5350"/>
<rect x="800.00" y="201.16" width="3.00" height="10.84" fill="#ef5350"/>
<rect x="805.00" y="191.14" width="1.00" height="12.73" fill="#26a69a"/>
<rect x="804.00" y="201.16" width="3.00" height="1.00" fill="#26a69a"/>
<rect x="810.00" y="195.74" width="1.00" height="6.23" fill="#26a69a"/>
<rect x="809.00" y="197.91" width="3.00" height="3.25" fill="#26a69a"/>
<rect x="814.00" y="198.45" width="1.00" height="60.14" fill="#ef5350"/>
<rect x="813.00" y="198.45" width="3.00" height="31.69" fill="#ef5350"/>
<rect x="818.00" y="226.35" width="1.00" height="5.96" fill="#26a69a"/>
<rect x="817.00" y="226.35" width="3.00" height="4.60" fill="#26a69a"/>
<rect x="822.00" y="239.09" width="1.00" height="77.20" fill="#ef5350"/>
<rect x="821.00" y="239.09" width="3.00" height="77.20" fill="#ef5350"/>
<rect x="827.00" y="262.65" width="1.00" height="56.88" fill="#26a69a"/>
<rect x="826.00" y="262.65" width="3.00" height="53.63" fill="#26a69a"/>
<rect x="831.00" y="259.94" width="1.00" height="33.32" fill="#26a69a"/>
<rect x="830.00" y="277.55" width="3.00" height="15.71" fill="#26a69a"/>
<rect x="835.00" y="245.86" width="1.00" height="38.47" fill="#26a69a"/>
<rect x="834.00" y="245.86" width="3.00" height="31.15" fill="#26a69a"/>
<rect x="840.00" y="237.73" width="1.00" height="14.90" fill="#ef5350"/>
<rect x="839.00" y="243.96" width="3.00" height="7.31" fill="#ef5350"/>
<rect x="844.00" y="241.79" width="1.00" height="18.96" fill="#26a69a"/>
<rect x="843.00" y="250.73" width="3.00" height="1.90" fill="#26a69a"/>
<rect x="848.00" y="249.92" width="1.00" height="6.77" fill="#26a69a"/>
<rect x="847.00" y="250.73" width="3.00" height="2.71" fill="#26a69a"/>
<rect x="852.00" y="250.46" width="1.00" height="27.09" fill="#ef5350"/>
<rect x="851.00" y="250.46" width="3.00" height="23.84" fill="#ef5350"/>
<rect x="857.00" y="197.91" width="1.00" height="79.64" fill="#26a69a"/>
<rect x="856.00" y="197.91" width="3.00" height="66.91" fill="#26a69a"/>
<rect x="861.00" y="197.91" width="1.00" height="47.95" fill="#ef5350"/>
<rect x="860.00" y="197.91" width="3.00" height="41.17" fill="#ef5350"/>
<rect x="865.00" y="199.00" width="1.00" height="22.48" fill="#ef5350"/>
<rect x="864.00" y="199.00" width="3.00" height="21.13" fill="#ef5350"/>
<rect x="870.00" y="220.12" width="1.00" height="41.99" fill="#ef5350"/>
<rect x="869.00" y="220.12" width="3.00" height="14.90" fill="#ef5350"/>
<rect x="874.00" y="234.48" width="1.00" height="40.36" fill="#ef5350"/>
<rect x="873.00" y="236.38" width="3.00" height="17.61" fill="#ef5350"/>
<rect x="878.00" y="249.38" width="1.00" height="27.63" fill="#ef5350"/>
<rect x="877.00" y="249.38" width="3.00" height="18.96" fill="#ef5350"/>
<rect x="882.00" y="253.98" width="1.00" height="25.73" fill="#ef5350"/>
<rect x="881.00" y="277.01" width="3.00" height="2.17" fill="#ef5350"/>
<rect x="887.00" y="271.59" width="1.00" height="10.84" fill="#26a69a"/>
<rect x="886.00" y="271.59" width="3.00" height="3.25" fill="#26a69a"/>
<rect x="891.00" y="266.72" width="1.00" height="14.36" fill="#26a69a"/>
<rect x="890.00" y="266.72" width="3.00" height="10.84" fill="#26a69a"/>
<rect x="895.00" y="258.05" width="1.00" height="96.16" fill="#26a69a"/>
<rect x="894.00" y="261.57" width="3.00" height="1.00" fill="#26a69a"/>
<rect x="900.00" y="258.05" width="1.00" height="12.19" fill="#26a69a"/>
<rect x="899.00" y="260.76" width="3.00" height="9.48" fill="#26a69a"/>
<rect x="904.00" y="230.15" width="1.00" height="37.38" fill="#26a69a"/>
<rect x="903.00" y="239.09" width="3.00" height="28.44" fill="#26a69a"/>
<rect x="908.00" y="230.15" width="1.00" height="15.71" fill="#26a69a"/>
<rect x="907.00" y="230.15" width="3.00" height="15.71" fill="#26a69a"/>
<rect x="912.00" y="230.15" width="1.00" height="38.19" fill="#ef5350"/>
<rect x="911.00" y="230.15" width="3.00" height="25.19" fill="#ef5350"/>
<rect x="917.00" y="247.75" width="1.00" height="17.07" fill="#26a69a"/>
<rect x="916.00" y="253.44" width="3.00" height="1.08" fill="#26a69a"/>
<rect x="921.00" y="253.44" width="1.00" height="24.11" fill="#ef5350"/>
<rect x="920.00" y="255.34" width="3.00" height="16.25" fill="#ef5350"/>
<rect x="925.00" y="258.05" width="1.00" height="13.54" fill="#26a69a"/>
<rect x="924.00" y="265.36" width="3.00" height="6.23" fill="#26a69a"/>
<rect x="929.00" y="243.15" width="1.00" height="11.38" fill="#ef5350"/>
<rect x="928.00" y="246.40" width="3.00" height="7.58" fill="#ef5350"/>
<rect x="934.00" y="252.19" width="1.00" height="10.05" fill="#ef5350"/>
<rect x="933.00" y="252.19" width="3.00" height="5.03" fill="#ef5350"/>
<rect x="938.00" y="250.18" width="1.00" height="12.46" fill="#ef5350"/>
<rect x="937.00" y="254.20" width="3.00" height="5.03" fill="#ef5350"/>
<rect x="942.00" y="257.21" width="1.00" height="13.47" fill="#ef5350"/>
<rect x="941.00" y="257.21" width="3.00" height="13.47" fill="#ef5350"/>
<rect x="947.00" y="265.25" width="1.00" height="6.03" fill="#26a69a"/>
<rect x="946.00" y="267.66" width="3.00" height="1.21" fill="#26a69a"/>
<rect x="951.00" y="255.20" width="1.00" height="10.05" fill="#ef5350"/>
<rect x="950.00" y="255.20" width="3.00" height="8.04" fill="#ef5350"/>
<rect x="955.00" y="254.20" width="1.00" height="9.05" fill="#26a69a"/>
<rect x="954.00" y="256.81" width="3.00" height="5.83" fill="#26a69a"/>
<rect x="959.00" y="252.19" width="1.00" height="5.43" fill="#26a69a"/>
<rect x="958.00" y="256.81" width="3.00" height="1.00" fill="#26a69a"/>
<rect x="964.00" y="257.21" width="1.00" height="17.49" fill="#ef5350"/>
<rect x="963.00" y="257.21" width="3.00" height="17.49" fill="#ef5350"/>
<rect x="968.00" y="274.30" width="1.00" height="10.65" fill="#26a69a"/>
<rect x="967.00" y="276.91" width="3.00" height="5.43" fill="#26a69a"/>
<rect x="972.00" y="273.89" width="1.00" height="8.44" fill="#ef5350"/>
<rect x="971.00" y="273.89" width="3.00" height="8.44" fill="#ef5350"/>
<rect x="977.00" y="281.33" width="1.00" height="16.48" fill="#ef5350"/>
<rect x="976.00" y="281.33" width="3.00" height="10.05" fill="#ef5350"/>
<rect x="981.00" y="287.36" width="1.00" height="6.63" fill="#26a69a"/>
<rect x="980.00" y="289.37" width="3.00" height="2.01" fill="#26a69a"/>
<rect x="985.00" y="284.35" width="1.00" height="13.47" fill="#26a69a"/>
<rect x="984.00" y="286.96" width="3.00" height="4.42" fill="#26a69a"/>
<rect x="989.00" y="275.90" width="1.00" height="17.89" fill="#26a69a"/>
<rect x="988.00" y="278.92" width="3.00" height="8.84" fill="#26a69a"/>
<rect x="994.00" y="275.90" width="1.00" height="8.44" fill="#26a69a"/>
<rect x="993.00" y="277.31" width="3.00" height="3.02" fill="#26a69a"/>
<rect x="998.00" y="255.20" width="1.00" height="22.11" fill="#26a69a"/>
<rect x="997.00" y="269.67" width="3.00" height="7.24" fill="#26a69a"/>
<rect x="1002.00" y="268.27" width="1.00" height="3.62" fill="#26a69a"/>
<rect x="1001.00" y="269.27" width="3.00" height="2.01" fill="#26a69a"/>
<rect x="1007.00" y="271.28" width="1.00" height="8.44" fill="#ef5350"/>
<rect x="1006.00" y="271.28" width="3.00" height="8.44" fill="#ef5350"/>
<rect x="1011.00" y="279.32" width="1.00" height="11.66" fill="#26a69a"/>
<rect x="1010.00" y="281.93" width="3.00" height="3.02" fill="#26a69a"/>
<rect x="1015.00" y="279.32" width="1.00" height="13.47" fill="#ef5350"/>
<rect x="1014.00" y="279.32" width="3.00" height="13.47" fill="#ef5350"/>
<rect x="1019.00" y="285.35" width="1.00" height="8.64" fill="#26a69a"/>
<rect x="1018.00" y="289.77" width="3.00" height="3.02" fill="#26a69a"/>
<rect x="1024.00" y="285.35" width="1.00" height="7.64" fill="#ef5350"/>
<rect x="1023.00" y="285.35" width="3.00" height="2.41" fill="#ef5350"/>
<rect x="1028.00" y="282.34" width="1.00" height="11.66" fill="#ef5350"/>
<rect x="1027.00" y="283.94" width="3.00" height="4.42" fill="#ef5350"/>
<rect x="1032.00" y="288.97" width="1.00" height="11.86" fill="#26a69a"/>
<rect x="1031.00" y="288.97" width="3.00" height="11.86" fill="#26a69a"/>
<rect x="1036.00" y="288.97" width="1.00" height="20.90" fill="#ef5350"/>
<rect x="1035.00" y="288.97" width="3.00" height="20.90" fill="#ef5350"/>
<rect x="1041.00" y="305.85" width="1.00" height="19.70" fill="#ef5350"/>
<rect x="1040.00" y="321.13" width="3.00" height="2.01" fill="#ef5350"/>
<rect x="1045.00" y="322.54" width="1.00" height="10.45" fill="#ef5350"/>
<rect x="1044.00" y="322.54" width="3.00" height="3.42" fill="#ef5350"/>
<rect x="1049.00" y="322.54" width="1.00" height="6.03" fill="#ef5350"/>
<rect x="1048.00" y="322.54" width="3.00" height="3.02" fill="#ef5350"/>
<rect x="1054.00" y="325.15" width="1.00" height="19.50" fill="#ef5350"/>
<rect x="1053.00" y="325.15" width="3.00" height="16.48" fill="#ef5350"/>
<rect x="1058.00" y="341.03" width="1.00" height="3.62" fill="#26a69a"/>
<rect x="1057.00" y="341.03" width="3.00" height="1.01" fill="#26a69a"/>
<rect x="1062.00" y="341.03" width="1.00" height="32.76" fill="#ef5350"/>
<rect x="1061.00" y="341.03" width="3.00" height="27.14" fill="#ef5350"/>
<rect x="1066.00" y="367.36" width="1.00" height="32.56" fill="#ef5350"/>
<rect x="1065.00" y="372.79" width="3.00" height="20.70" fill="#ef5350"/>
<rect x="1071.00" y="327.96" width="1.00" height="71.96" fill="#26a69a"/>
<rect x="1070.00" y="341.03" width="3.00" height="52.46" fill="#26a69a"/>
<rect x="1075.00" y="319.12" width="1.00" height="16.48" fill="#26a69a"/>
<rect x="1074.00" y="325.15" width="3.00" height="8.44" fill="#26a69a"/>
<rect x="1079.00" y="335.00" width="1.00" height="24.72" fill="#ef5350"/>
<rect x="1078.00" y="335.00" width="3.00" height="6.63" fill="#ef5350"/>
<rect x="1084.00" y="347.66" width="1.00" height="26.13" fill="#26a69a"/>
<rect x="1083.00" y="351.28" width="3.00" height="6.43" fill="#26a69a"/>
<rect x="1088.00" y="351.28" width="1.00" height="21.51" fill="#ef5350"/>
<rect x="1087.00" y="351.28" width="3.00" height="13.47" fill="#ef5350"/>
<rect x="1092.00" y="364.15" width="1.00" height="17.69" fill="#ef5350"/>
<rect x="1091.00" y="364.15" width="3.00" height="6.63" fill="#ef5350"/>
<rect x="1096.00" y="369.77" width="1.00" height="25.73" fill="#ef5350"/>
<rect x="1095.00" y="369.77" width="3.00" height="3.02" fill="#ef5350"/>
<rect x="1101.00" y="372.39" width="1.00" height="20.90" fill="#ef5350"/>
<rect x="1100.00" y="372.39" width="3.00" height="4.42" fill="#ef5350"/>
<rect x="1105.00" y="367.76" width="1.00" height="19.10" fill="#26a69a"/>
<rect x="1104.00" y="369.77" width="3.00" height="7.04" fill="#26a69a"/>
<rect x="1109.00" y="369.77" width="1.00" height="22.11" fill="#ef5350"/>
<rect x="1108.00" y="369.77" width="3.00" height="17.09" fill="#ef5350"/>
<rect x="1114.00" y="380.83" width="1.00" height="11.06" fill="#ef5350"/>
<rect x="1113.00" y="380.83" width="3.00" height="4.02" fill="#ef5350"/>
<rect x="1118.00" y="379.22" width="1.00" height="16.68" fill="#26a69a"/>
<rect x="1117.00" y="379.22" width="3.00" height="2.61" fill="#26a69a"/>
<rect x="1122.00" y="379.22" width="1.00" height="13.67" fill="#ef5350"/>
<rect x="1121.00" y="379.22" width="3.00" height="12.66" fill="#ef5350"/>
<rect x="1126.00" y="389.47" width="1.00" height="14.47" fill="#ef5350"/>
<rect x="1125.00" y="390.88" width="3.00" height="1.61" fill="#ef5350"/>
<rect x="1131.00" y="389.87" width="1.00" height="31.76" fill="#26a69a"/>
<rect x="1130.00" y="392.29" width="3.00" height="7.64" fill="#26a69a"/>
<rect x="1135.00" y="316.66" width="1.00" height="90.45" fill="#26a69a"/>
<rect x="1134.00" y="316.66" width="3.00" height="76.38" fill="#26a69a"/>
<rect x="1139.00" y="313.24" width="1.00" height="21.51" fill="#ef5350"/>
<rect x="1138.00" y="313.64" width="3.00" height="3.02" fill="#ef5350"/>
<rect x="1143.00" y="314.65" width="1.00" height="21.11" fill="#ef5350"/>
<rect x="1142.00" y="315.65" width="3.00" height="10.65" fill="#ef5350"/>
<rect x="1148.00" y="244.30" width="1.00" height="97.49" fill="#26a69a"/>
<rect x="1147.00" y="261.98" width="3.00" height="63.72" fill="#26a69a"/>
<rect x="1152.00" y="249.32" width="1.00" height="41.21" fill="#26a69a"/>
<rect x="1151.00" y="261.38" width="3.00" height="1.61" fill="#26a69a"/>
<rect x="1156.00" y="258.37" width="1.00" height="29.15" fill="#26a69a"/>
<rect x="1155.00" y="261.98" width="3.00" height="25.53" fill="#26a69a"/>
<rect x="1161.00" y="276.06" width="1.00" height="40.60" fill="#ef5350"/>
<rect x="1160.00" y="284.10" width="3.00" height="22.51" fill="#ef5350"/>
<rect x="1165.00" y="313.04" width="1.00" height="12.66" fill="#ef5350"/>
<rect x="1164.00" y="313.04" width="3.00" height="6.63" fill="#ef5350"/>
<rect x="1169.00" y="265.00" width="1.00" height="60.70" fill="#26a69a"/>
<rect x="1168.00" y="277.06" width="3.00" height="29.55" fill="#26a69a"/>
<rect x="1173.00" y="275.85" width="1.00" height="21.71" fill="#ef5350"/>
<rect x="1172.00" y="277.06" width="3.00" height="16.48" fill="#ef5350"/>
<rect x="1178.00" y="293.54" width="1.00" height="34.57" fill="#26a69a"/>
<rect x="1177.00" y="302.99" width="3.00" height="20.70" fill="#26a69a"/>
<rect x="1182.00" y="303.59" width="1.00" height="22.11" fill="#ef5350"/>
<rect x="1181.00" y="303.59" width="3.00" height="2.01" fill="#ef5350"/>
<rect x="1186.00" y="303.59" width="1.00" height="38.19" fill="#ef5350"/>
<rect x="1185.00" y="304.60" width="3.00" height="2.01" fill="#ef5350"/>
<rect x="1191.00" y="306.21" width="1.00" height="19.50" fill="#ef5350"/>
<rect x="1190.00" y="306.21" width="3.00" height="8.84" fill="#ef5350"/>
<rect x="1195.00" y="314.65" width="1.00" height="10.05" fill="#ef5350"/>
<rect x="1194.00" y="314.65" width="3.00" height="2.01" fill="#ef5350"/>
<rect x="1199.00" y="309.62" width="1.00" height="10.05" fill="#26a69a"/>
<rect x="1198.00" y="312.04" width="3.00" height="5.03" fill="#26a69a"/>
<rect x="1203.00" y="313.64" width="1.00" height="9.05" fill="#ef5350"/>
<rect x="1202.00" y="313.64" width="3.00" height="6.43" fill="#ef5350"/>
<rect x="1208.00" y="320.08" width="1.00" height="5.63" fill="#ef5350"/>
<rect x="1207.00" y="320.08" width="3.00" height="2.61" fill="#ef5350"/>
<rect x="1212.00" y="322.09" width="1.00" height="19.70" fill="#ef5350"/>
<rect x="1211.00" y="322.09" width="3.00" height="6.63" fill="#ef5350"/>
<rect x="1216.00" y="320.68" width="1.00" height="28.14" fill="#26a69a"/>
<rect x="1215.00" y="320.68" width="3.00" height="8.04" fill="#26a69a"/>
<rect x="1221.00" y="271.03" width="1.00" height="57.69" fill="#26a69a"/>
<rect x="1220.00" y="274.05" width="3.00" height="51.66" fill="#26a69a"/>
<rect x="1225.00" y="277.06" width="1.00" height="29.55" fill="#ef5350"/>
<rect x="1224.00" y="277.06" width="3.00" height="4.42" fill="#ef5350"/>
<rect x="1229.00" y="244.30" width="1.00" height="50.25" fill="#26a69a"/>
<rect x="1228.00" y="256.96" width="3.00" height="24.12" fill="#26a69a"/>
<rect x="1233.00" y="256.96" width="1.00" height="52.66" fill="#ef5350"/>
<rect x="1232.00" y="256.96" width="3.00" height="36.58" fill="#ef5350"/>
<rect x="1238.00" y="267.81" width="1.00" height="38.79" fill="#26a69a"/>
<rect x="1237.00" y="292.54" width="3.00" height="1.01" fill="#26a69a"/>
<rect x="1242.00" y="254.95" width="1.00" height="45.63" fill="#26a69a"/>
<rect x="1241.00" y="290.53" width="3.00" height="3.02" fill="#26a69a"/>
<rect x="1246.00" y="274.05" width="1.00" height="16.48" fill="#26a69a"/>
<rect x="1245.00" y="274.05" width="3.00" height="16.48" fill="#26a69a"/>
<rect x="1250.00" y="271.43" width="1.00" height="22.11" fill="#ef5350"/>
<rect x="1249.00" y="271.43" width="3.00" height="22.11" fill="#ef5350"/>
<rect x="1255.00" y="265.00" width="1.00" height="24.52" fill="#26a69a"/>
<rect x="1254.00" y="267.81" width="3.00" height="19.70" fill="#26a69a"/>
<rect x="1259.00" y="265.00" width="1.00" height="16.48" fill="#26a69a"/>
<rect x="1258.00" y="271.03" width="3.00" height="8.44" fill="#26a69a"/>
<rect x="1263.00" y="271.03" width="1.00" height="10.45" fill="#ef5350"/>
<rect x="1262.00" y="271.03" width="3.00" height="7.84" fill="#ef5350"/>
<rect x="1268.00" y="273.44" width="1.00" height="17.49" fill="#26a69a"/>
<rect x="1267.00" y="273.44" width="3.00" height="4.42" fill="#26a69a"/>
<rect x="1272.00" y="222.79" width="1.00" height="55.08" fill="#ef5350"/>
<rect x="1271.00" y="272.84" width="3.00" height="4.62" fill="#ef5350"/>
<rect x="1276.00" y="281.08" width="1.00" height="28.14" fill="#ef5350"/>
<rect x="1275.00" y="281.08" width="3.00" height="6.43" fill="#ef5350"/>
<rect x="1280.00" y="281.48" width="1.00" height="19.10" fill="#ef5350"/>
<rect x="1279.00" y="287.11" width="3.00" height="3.42" fill="#ef5350"/>
<rect x="1285.00" y="303.59" width="1.00" height="38.19" fill="#26a69a"/>
<rect x="1284.00" y="316.26" width="3.00" height="6.83" fill="#26a69a"/>
<rect x="1289.00" y="316.66" width="1.00" height="49.25" fill="#ef5350"/>
<rect x="1288.00" y="316.66" width="3.00" height="40.80" fill="#ef5350"/>
<rect x="1293.00" y="322.69" width="1.00" height="32.16" fill="#26a69a"/>
<rect x="1292.00" y="325.30" width="3.00" height="16.48" fill="#26a69a"/>
<rect x="1298.00" y="311.63" width="1.00" height="29.15" fill="#ef5350"/>
<rect x="1297.00" y="322.29" width="3.00" height="3.42" fill="#ef5350"/>
<rect x="1302.00" y="297.16" width="1.00" height="57.69" fill="#26a69a"/>
<rect x="1301.00" y="324.30" width="3.00" height="1.41" fill="#26a69a"/>
<rect x="1306.00" y="300.98" width="1.00" height="18.69" fill="#26a69a"/>
<rect x="1305.00" y="306.21" width="3.00" height="13.47" fill="#26a69a"/>
<rect x="1310.00" y="316.66" width="1.00" height="16.08" fill="#ef5350"/>
<rect x="1309.00" y="316.66" width="3.00" height="6.63" fill="#ef5350"/>
<rect x="1315.00" y="308.62" width="1.00" height="17.09" fill="#26a69a"/>
<rect x="1314.00" y="312.64" width="3.00" height="10.05" fill="#26a69a"/>
<rect x="1319.00" y="300.58" width="1.00" height="13.07" fill="#ef5350"/>
<rect x="1318.00" y="300.58" width="3.00" height="13.07" fill="#ef5350"/>
<rect x="1323.00" y="298.57" width="1.00" height="10.05" fill="#26a69a"/>
<rect x="1322.00" y="303.59" width="3.00" height="3.02" fill="#26a69a"/>
<rect x="1328.00" y="295.15" width="1.00" height="10.45" fill="#26a69a"/>
<rect x="1327.00" y="301.58" width="3.00" height="2.41" fill="#26a69a"/>
<rect x="1332.00" y="261.98" width="1.00" height="40.00" fill="#26a69a"/>
<rect x="1331.00" y="268.42" width="3.00" height="33.57" fill="#26a69a"/>
<rect x="1336.00" y="239.27" width="1.00" height="32.16" fill="#ef5350"/>
<rect x="1335.00" y="239.27" width="3.00" height="19.70" fill="#ef5350"/>
<rect x="1340.00" y="195.45" width="1.00" height="49.85" fill="#ef5350"/>
<rect x="1339.00" y="195.45" width="3.00" height="13.27" fill="#ef5350"/>
</g>
<g clip-path="url(#cm)" fill="none" stroke-linejoin="round" stroke-linecap="round">
<path d="M780.3,133.4 Q1028.2,650.2 1375.1,142.7" stroke="#2196f3" stroke-width="1.5"/>
<line x1="1139.80" y1="241.60" x2="1340.30" y2="238.10" stroke="#2196f3" stroke-width="1.3"/>
<line x1="1152.70" y1="344.50" x2="1362.00" y2="344.50" stroke="#f44336" stroke-width="1.2"/>
</g>
<line x1="1" y1="208.5" x2="1729" y2="208.5" stroke="#ef5350" stroke-width="1" stroke-dasharray="1 2" shape-rendering="crispEdges"/>
<text x="980.5" y="157.8" font-size="20" fill="#2196f3" stroke="#2196f3" stroke-width="0.2" text-anchor="start" font-weight="normal" textLength="125.0" lengthAdjust="spacingAndGlyphs">Theo dõi CUP</text>
<text x="1349.2" y="249.8" font-size="20" fill="#2196f3" stroke="#2196f3" stroke-width="0.2" text-anchor="start" font-weight="normal" textLength="82.6" lengthAdjust="spacingAndGlyphs">breakout</text>
<g clip-path="url(#cm)">
<circle cx="3.6" cy="643.2" r="17.6" fill="none" stroke="#0cc80c" stroke-width="2.2"/>
<text x="3.6" y="649.2" font-size="17" fill="#0cc80c" stroke="#0cc80c" stroke-width="0.2" text-anchor="middle" font-weight="normal">F</text>
<circle cx="260.1" cy="643.2" r="17.6" fill="none" stroke="#a0289a" stroke-width="2.2"/>
<text x="260.1" y="649.2" font-size="17" fill="#a0289a" stroke="#a0289a" stroke-width="0.2" text-anchor="middle" font-weight="normal">D</text>
<circle cx="273.1" cy="643.2" r="17.6" fill="none" stroke="#a0289a" stroke-width="2.2"/>
<text x="273.1" y="649.2" font-size="17" fill="#a0289a" stroke="#a0289a" stroke-width="0.2" text-anchor="middle" font-weight="normal">D</text>
<circle cx="286.2" cy="643.2" r="17.6" fill="none" stroke="#0cc80c" stroke-width="2.2"/>
<text x="286.2" y="649.2" font-size="17" fill="#0cc80c" stroke="#0cc80c" stroke-width="0.2" text-anchor="middle" font-weight="normal">F</text>
<circle cx="556" cy="643.2" r="17.6" fill="none" stroke="#0cc80c" stroke-width="2.2"/>
<text x="556.0" y="649.2" font-size="17" fill="#0cc80c" stroke="#0cc80c" stroke-width="0.2" text-anchor="middle" font-weight="normal">F</text>
<circle cx="773.8" cy="643.2" r="17.6" fill="none" stroke="#a0289a" stroke-width="2.2"/>
<text x="773.8" y="649.2" font-size="17" fill="#a0289a" stroke="#a0289a" stroke-width="0.2" text-anchor="middle" font-weight="normal">D</text>
<circle cx="834" cy="643.2" r="17.6" fill="none" stroke="#0cc80c" stroke-width="2.2"/>
<text x="834.0" y="649.2" font-size="17" fill="#0cc80c" stroke="#0cc80c" stroke-width="0.2" text-anchor="middle" font-weight="normal">F</text>
<circle cx="846.8" cy="643.2" r="17.6" fill="none" stroke="#0cc80c" stroke-width="2.2"/>
<text x="846.8" y="649.2" font-size="17" fill="#0cc80c" stroke="#0cc80c" stroke-width="0.2" text-anchor="middle" font-weight="normal">F</text>
<circle cx="1078" cy="643.2" r="17.6" fill="none" stroke="#0cc80c" stroke-width="2.2"/>
<text x="1078.0" y="649.2" font-size="17" fill="#0cc80c" stroke="#0cc80c" stroke-width="0.2" text-anchor="middle" font-weight="normal">F</text>
<circle cx="1339" cy="643.2" r="17.6" fill="none" stroke="#a0289a" stroke-width="2.2"/>
<text x="1339.0" y="649.2" font-size="17" fill="#a0289a" stroke="#a0289a" stroke-width="0.2" text-anchor="middle" font-weight="normal">D</text>
</g>
<g shape-rendering="crispEdges">
<rect x="0.00" y="57.00" width="1831.00" height="2.00" fill="#e0e3eb"/>
<rect x="0.00" y="0.00" width="1.00" height="1070.00" fill="#dcdfe8"/>
<rect x="0.00" y="666.00" width="1831.00" height="1.00" fill="#e0e3eb"/>
<rect x="0.00" y="871.00" width="1831.00" height="2.00" fill="#dee1ea"/>
<rect x="0.00" y="980.00" width="1831.00" height="1.00" fill="#e0e3eb"/>
<rect x="0.00" y="1022.00" width="1831.00" height="1.00" fill="#e0e3eb"/>
<rect x="1729.00" y="59.00" width="1.00" height="964.00" fill="#e0e3eb"/>
<rect x="1730.00" y="643.00" width="6.00" height="1.00" fill="#e0e3eb"/>
<rect x="1730.00" y="576.00" width="6.00" height="1.00" fill="#e0e3eb"/>
<rect x="1730.00" y="510.00" width="6.00" height="1.00" fill="#e0e3eb"/>
<rect x="1730.00" y="444.00" width="6.00" height="1.00" fill="#e0e3eb"/>
<rect x="1730.00" y="377.00" width="6.00" height="1.00" fill="#e0e3eb"/>
<rect x="1730.00" y="311.00" width="6.00" height="1.00" fill="#e0e3eb"/>
<rect x="1730.00" y="245.00" width="6.00" height="1.00" fill="#e0e3eb"/>
<rect x="1730.00" y="178.00" width="6.00" height="1.00" fill="#e0e3eb"/>
<rect x="1730.00" y="112.00" width="6.00" height="1.00" fill="#e0e3eb"/>
<rect x="1730.00" y="700.00" width="6.00" height="1.00" fill="#e0e3eb"/>
<rect x="1730.00" y="777.00" width="6.00" height="1.00" fill="#e0e3eb"/>
<rect x="1730.00" y="853.00" width="6.00" height="1.00" fill="#e0e3eb"/>
<rect x="1730.00" y="892.00" width="6.00" height="1.00" fill="#e0e3eb"/>
<rect x="1730.00" y="947.00" width="6.00" height="1.00" fill="#e0e3eb"/>
<rect x="5.00" y="981.00" width="1.00" height="5.00" fill="#e0e3eb"/>
<rect x="185.00" y="981.00" width="1.00" height="5.00" fill="#e0e3eb"/>
<rect x="373.00" y="981.00" width="1.00" height="5.00" fill="#e0e3eb"/>
<rect x="557.00" y="981.00" width="1.00" height="5.00" fill="#e0e3eb"/>
<rect x="745.00" y="981.00" width="1.00" height="5.00" fill="#e0e3eb"/>
<rect x="895.00" y="981.00" width="1.00" height="5.00" fill="#e0e3eb"/>
<rect x="1079.00" y="981.00" width="1.00" height="5.00" fill="#e0e3eb"/>
<rect x="1259.00" y="981.00" width="1.00" height="5.00" fill="#e0e3eb"/>
<rect x="1447.00" y="981.00" width="1.00" height="5.00" fill="#e0e3eb"/>
<rect x="1631.00" y="981.00" width="1.00" height="5.00" fill="#e0e3eb"/>
</g><g>
<rect x="151.30" y="0.00" width="1.50" height="57.00" fill="#e0e3eb"/>
<rect x="208.20" y="0.00" width="1.50" height="57.00" fill="#e0e3eb"/>
<rect x="266.80" y="0.00" width="1.50" height="57.00" fill="#e0e3eb"/>
<rect x="405.80" y="0.00" width="1.50" height="57.00" fill="#e0e3eb"/>
<rect x="582.00" y="0.00" width="1.50" height="57.00" fill="#e0e3eb"/>
<rect x="676.60" y="0.00" width="1.50" height="57.00" fill="#e0e3eb"/>
<rect x="810.60" y="0.00" width="1.50" height="57.00" fill="#e0e3eb"/>
<rect x="927.40" y="0.00" width="1.50" height="57.00" fill="#e0e3eb"/>
<rect x="1721.80" y="0.00" width="1.50" height="57.00" fill="#e0e3eb"/>
<rect x="1780.40" y="0.00" width="1.50" height="57.00" fill="#e0e3eb"/>
</g><g shape-rendering="crispEdges">
<rect x="331.00" y="1035.00" width="1.00" height="33.00" fill="#e0e3eb"/>
<rect x="1630.00" y="1035.00" width="1.00" height="33.00" fill="#e0e3eb"/>
</g>
<text x="1742.1" y="649.9" font-size="18" fill="#131722" stroke="#131722" stroke-width="0.2" text-anchor="start" font-weight="normal" textLength="44.3" lengthAdjust="spacingAndGlyphs">26.00</text>
<text x="1742.1" y="582.9" font-size="18" fill="#131722" stroke="#131722" stroke-width="0.2" text-anchor="start" font-weight="normal" textLength="44.3" lengthAdjust="spacingAndGlyphs">28.00</text>
<text x="1742.1" y="516.9" font-size="18" fill="#131722" stroke="#131722" stroke-width="0.2" text-anchor="start" font-weight="normal" textLength="44.3" lengthAdjust="spacingAndGlyphs">30.00</text>
<text x="1742.1" y="450.9" font-size="18" fill="#131722" stroke="#131722" stroke-width="0.2" text-anchor="start" font-weight="normal" textLength="44.3" lengthAdjust="spacingAndGlyphs">32.00</text>
<text x="1742.1" y="383.9" font-size="18" fill="#131722" stroke="#131722" stroke-width="0.2" text-anchor="start" font-weight="normal" textLength="44.3" lengthAdjust="spacingAndGlyphs">34.00</text>
<text x="1742.1" y="317.9" font-size="18" fill="#131722" stroke="#131722" stroke-width="0.2" text-anchor="start" font-weight="normal" textLength="44.3" lengthAdjust="spacingAndGlyphs">36.00</text>
<text x="1742.1" y="251.9" font-size="18" fill="#131722" stroke="#131722" stroke-width="0.2" text-anchor="start" font-weight="normal" textLength="44.3" lengthAdjust="spacingAndGlyphs">38.00</text>
<text x="1742.1" y="184.9" font-size="18" fill="#131722" stroke="#131722" stroke-width="0.2" text-anchor="start" font-weight="normal" textLength="44.3" lengthAdjust="spacingAndGlyphs">40.00</text>
<text x="1742.1" y="118.9" font-size="18" fill="#131722" stroke="#131722" stroke-width="0.2" text-anchor="start" font-weight="normal" textLength="44.3" lengthAdjust="spacingAndGlyphs">42.00</text>
<text x="1742.1" y="706.9" font-size="18" fill="#131722" stroke="#131722" stroke-width="0.2" text-anchor="start" font-weight="normal" textLength="81.6" lengthAdjust="spacingAndGlyphs">400000.00</text>
<text x="1742.1" y="783.9" font-size="18" fill="#131722" stroke="#131722" stroke-width="0.2" text-anchor="start" font-weight="normal" textLength="81.6" lengthAdjust="spacingAndGlyphs">200000.00</text>
<text x="1742.1" y="859.9" font-size="18" fill="#131722" stroke="#131722" stroke-width="0.2" text-anchor="start" font-weight="normal" textLength="34.3" lengthAdjust="spacingAndGlyphs">0.00</text>
<text x="1742.9" y="899.2" font-size="18" fill="#131722" stroke="#131722" stroke-width="0.2" text-anchor="start" font-weight="normal" textLength="52.0" lengthAdjust="spacingAndGlyphs">2.0000</text>
<text x="1742.9" y="954.1" font-size="18" fill="#131722" stroke="#131722" stroke-width="0.2" text-anchor="start" font-weight="normal" textLength="52.0" lengthAdjust="spacingAndGlyphs">1.0000</text>
<rect x="1729.00" y="195.30" width="69.80" height="26.60" fill="#ef5350"/>
<rect x="1730.00" y="208.00" width="6.00" height="1.00" fill="#ffffff" shape-rendering="crispEdges"/>
<text x="1742.9" y="215.0" font-size="18" fill="#ffffff" stroke="#ffffff" stroke-width="0.2" text-anchor="start" font-weight="normal" textLength="43.5" lengthAdjust="spacingAndGlyphs" style="stroke-width:0.7">39.10</text>
<text x="5.2" y="1010.0" font-size="18" fill="#131722" stroke="#131722" stroke-width="0.2" text-anchor="middle" font-weight="normal" textLength="88.5" lengthAdjust="spacingAndGlyphs">Tháng Năm</text>
<text x="184.6" y="1010.0" font-size="18" fill="#131722" stroke="#131722" stroke-width="0.2" text-anchor="middle" font-weight="normal" textLength="62.2" lengthAdjust="spacingAndGlyphs">Tháng 7</text>
<text x="372.9" y="1010.0" font-size="18" fill="#131722" stroke="#131722" stroke-width="0.2" text-anchor="middle" font-weight="normal" textLength="62.2" lengthAdjust="spacingAndGlyphs">Tháng 9</text>
<text x="557.0" y="1010.0" font-size="18" fill="#131722" stroke="#131722" stroke-width="0.2" text-anchor="middle" font-weight="normal" textLength="71.3" lengthAdjust="spacingAndGlyphs">Tháng 11</text>
<text x="744.8" y="1010.0" font-size="18" fill="#131722" stroke="#131722" stroke-width="0.2" text-anchor="middle" font-weight="normal" textLength="39.0" lengthAdjust="spacingAndGlyphs" style="stroke-width:0.75">2021</text>
<text x="895.1" y="1010.0" font-size="18" fill="#131722" stroke="#131722" stroke-width="0.2" text-anchor="middle" font-weight="normal" textLength="62.2" lengthAdjust="spacingAndGlyphs">Tháng 3</text>
<text x="1079.2" y="1010.0" font-size="18" fill="#131722" stroke="#131722" stroke-width="0.2" text-anchor="middle" font-weight="normal" textLength="88.5" lengthAdjust="spacingAndGlyphs">Tháng Năm</text>
<text x="1259.0" y="1010.0" font-size="18" fill="#131722" stroke="#131722" stroke-width="0.2" text-anchor="middle" font-weight="normal" textLength="62.2" lengthAdjust="spacingAndGlyphs">Tháng 7</text>
<text x="1447.3" y="1010.0" font-size="18" fill="#131722" stroke="#131722" stroke-width="0.2" text-anchor="middle" font-weight="normal" textLength="62.2" lengthAdjust="spacingAndGlyphs">Tháng 9</text>
<text x="1631.3" y="1010.0" font-size="18" fill="#131722" stroke="#131722" stroke-width="0.2" text-anchor="middle" font-weight="normal" textLength="71.3" lengthAdjust="spacingAndGlyphs">Tháng 11</text>
<text x="19.1" y="35.6" font-size="20" fill="#131722" stroke="#131722" stroke-width="0.2" text-anchor="start" font-weight="normal" textLength="38.2" lengthAdjust="spacingAndGlyphs" style="stroke-width:0.7">TLG</text>
<text x="174.8" y="35.6" font-size="20" fill="#131722" stroke="#131722" stroke-width="0.2" text-anchor="start" font-weight="normal" textLength="11.5" lengthAdjust="spacingAndGlyphs">D</text>
<text x="321.1" y="35.6" font-size="20" fill="#131722" stroke="#131722" stroke-width="0.2" text-anchor="start" font-weight="normal" textLength="68.5" lengthAdjust="spacingAndGlyphs">So sánh</text>
<text x="460.4" y="35.6" font-size="20" fill="#131722" stroke="#131722" stroke-width="0.2" text-anchor="start" font-weight="normal" textLength="105.7" lengthAdjust="spacingAndGlyphs">Các chỉ báo</text>
<text x="693.7" y="35.6" font-size="20" fill="#131722" stroke="#131722" stroke-width="0.2" text-anchor="start" font-weight="normal" textLength="68.8" lengthAdjust="spacingAndGlyphs">Biểu đồ</text>
<text x="827.3" y="35.6" font-size="20" fill="#131722" stroke="#131722" stroke-width="0.2" text-anchor="start" font-weight="normal" textLength="53.0" lengthAdjust="spacingAndGlyphs">Hồ sơ</text>
<g fill="none" stroke="#131722" stroke-linecap="round" stroke-linejoin="round" stroke-width="1.5" stroke-linecap="butt"><rect x="229.9" y="19.3" width="6" height="18.6"/><path d="M232.9,14.2V19.3M232.9,37.9V43.6"/><rect x="242" y="23.4" width="5.6" height="10.4"/><path d="M244.8,18.6V23.4M244.8,33.8V39"/></g>
<g fill="none" stroke="#131722" stroke-linecap="round" stroke-linejoin="round" stroke-width="1.5"><circle cx="296" cy="29.6" r="13.1"/><path d="M289.4,29.6H302.6M296,23V36.2"/></g>
<g fill="none" stroke="#131722" stroke-linecap="round" stroke-linejoin="round" stroke-width="1.5"><path d="M441.7,19.9C441.7,17.6 440.2,16.4 438.2,16.4C435.5,16.4 433.8,18 433.8,20.8L433.8,35.2C433.8,38.2 432.4,39.9 430,39.9C428,39.9 426.7,39 426.2,37.6"/><path d="M428.2,25.2H440.4"/><path d="M437.9,34.1L444.6,40.5M444.6,34.1L437.9,40.5"/></g>
<g fill="none" stroke="#131722" stroke-linecap="round" stroke-linejoin="round" stroke-width="1.4"><path d="M604.7,21.4L598.9,26.6L604.7,31.8"/><path d="M598.9,26.6H609.5C614.5,26.6 617.4,30.5 617.4,36.5"/></g>
<g fill="none" stroke="#b2b5be" stroke-linecap="round" stroke-linejoin="round" stroke-width="1.4"><path d="M653.8,21.4L659.6,26.6L653.8,31.8"/><path d="M659.6,26.6H648.8C643.8,26.6 640.9,30.5 640.9,36.5"/></g>
<g fill="none" stroke="#131722" stroke-linecap="round" stroke-linejoin="round" stroke-width="1.7"><path d="M777.9,25.2L783.8,31.2L789.7,25.2"/><path d="M894.8,25.2L900.8,31.2L906.8,25.2"/></g>
<g fill="none" stroke="#131722" stroke-linecap="round" stroke-linejoin="round" stroke-width="1.4" stroke-linecap="butt" stroke-linejoin="miter"><path d="M1740.3,24V17.3H1747M1740.3,17.3L1748.2,25.2"/><path d="M1757.1,17.3H1763.8V24M1763.8,17.3L1755.9,25.2"/><path d="M1740.3,33.9V40.6H1747M1740.3,40.6L1748.2,32.7"/><path d="M1757.1,40.6H1763.8V33.9M1763.8,40.6L1755.9,32.7"/></g>
<g fill="#50535e" stroke="#50535e" stroke-width="2.4"><path d="M1816.8,21.2L1800.9,29L1816.8,37" fill="none"/><circle cx="1800.9" cy="29" r="2.8"/><circle cx="1816.8" cy="21.2" r="2.8"/><circle cx="1816.8" cy="37" r="2.8"/></g>
<text x="15.1" y="90.9" font-size="23.3" fill="#131722" stroke="#131722" stroke-width="0.2" text-anchor="start" font-weight="normal" textLength="285.2" lengthAdjust="spacingAndGlyphs">CTCP Tập đoàn Thiên Long</text>
<circle cx="310.2" cy="84" r="1.6" fill="#b2b5be"/><circle cx="355.3" cy="84" r="1.6" fill="#b2b5be"/>
<text x="320.5" y="90.9" font-size="23.3" fill="#131722" stroke="#131722" stroke-width="0.2" text-anchor="start" font-weight="normal" textLength="24.7" lengthAdjust="spacingAndGlyphs">1D</text>
<text x="365.4" y="90.9" font-size="23.3" fill="#131722" stroke="#131722" stroke-width="0.2" text-anchor="start" font-weight="normal" textLength="38.3" lengthAdjust="spacingAndGlyphs">HSX</text>
<circle cx="440.4" cy="83.1" r="13.3" fill="#d8efec"/><circle cx="440.4" cy="83.1" r="6" fill="#089981"/>
<text x="479.0" y="92.1" font-size="19.3" fill="#434651" stroke="#434651" stroke-width="0.2" text-anchor="start" font-weight="normal" textLength="12.3" lengthAdjust="spacingAndGlyphs">O</text>
<text x="494.7" y="92.1" font-size="19.3" fill="#ef5350" stroke="#ef5350" stroke-width="0.2" text-anchor="start" font-weight="normal" textLength="46.4" lengthAdjust="spacingAndGlyphs">39.50</text>
<text x="551.1" y="92.1" font-size="19.3" fill="#434651" stroke="#434651" stroke-width="0.2" text-anchor="start" font-weight="normal" textLength="11.8" lengthAdjust="spacingAndGlyphs">H</text>
<text x="565.5" y="92.1" font-size="19.3" fill="#ef5350" stroke="#ef5350" stroke-width="0.2" text-anchor="start" font-weight="normal" textLength="46.7" lengthAdjust="spacingAndGlyphs">39.50</text>
<text x="622.6" y="92.1" font-size="19.3" fill="#434651" stroke="#434651" stroke-width="0.2" text-anchor="start" font-weight="normal" textLength="8.4" lengthAdjust="spacingAndGlyphs">L</text>
<text x="633.7" y="92.1" font-size="19.3" fill="#ef5350" stroke="#ef5350" stroke-width="0.2" text-anchor="start" font-weight="normal" textLength="47.1" lengthAdjust="spacingAndGlyphs">38.00</text>
<text x="690.8" y="92.1" font-size="19.3" fill="#434651" stroke="#434651" stroke-width="0.2" text-anchor="start" font-weight="normal" textLength="10.2" lengthAdjust="spacingAndGlyphs">C</text>
<text x="704.4" y="92.1" font-size="19.3" fill="#ef5350" stroke="#ef5350" stroke-width="0.2" text-anchor="start" font-weight="normal" textLength="46.4" lengthAdjust="spacingAndGlyphs">39.10</text>
<text x="760.8" y="92.1" font-size="19.3" fill="#ef5350" stroke="#ef5350" stroke-width="0.2" text-anchor="start" font-weight="normal" textLength="46.7" lengthAdjust="spacingAndGlyphs">+1.50</text>
<text x="816.4" y="92.1" font-size="19.3" fill="#ef5350" stroke="#ef5350" stroke-width="0.2" text-anchor="start" font-weight="normal" textLength="71.0" lengthAdjust="spacingAndGlyphs">(+3.99%)</text>
<text x="15.1" y="125.8" font-size="19.2" fill="#131722" stroke="#131722" stroke-width="0.2" text-anchor="start" font-weight="normal" textLength="26.5" lengthAdjust="spacingAndGlyphs">MA</text>
<text x="46.5" y="125.8" font-size="19.2" fill="#434651" stroke="#434651" stroke-width="0.2" text-anchor="start" font-weight="normal" textLength="86.0" lengthAdjust="spacingAndGlyphs">20 close 0</text>
<text x="145.9" y="125.8" font-size="19.2" fill="#f44336" stroke="#f44336" stroke-width="0.2" text-anchor="start" font-weight="normal" textLength="65.6" lengthAdjust="spacingAndGlyphs">36.4581</text>
<text x="15.1" y="161.9" font-size="19.2" fill="#131722" stroke="#131722" stroke-width="0.2" text-anchor="start" font-weight="normal" textLength="26.5" lengthAdjust="spacingAndGlyphs">MA</text>
<text x="46.5" y="161.9" font-size="19.2" fill="#434651" stroke="#434651" stroke-width="0.2" text-anchor="start" font-weight="normal" textLength="86.0" lengthAdjust="spacingAndGlyphs">50 close 0</text>
<text x="145.9" y="161.9" font-size="19.2" fill="#0d47a1" stroke="#0d47a1" stroke-width="0.2" text-anchor="start" font-weight="normal" textLength="66.8" lengthAdjust="spacingAndGlyphs">36.3826</text>
<text x="15.1" y="198.0" font-size="19.2" fill="#131722" stroke="#131722" stroke-width="0.2" text-anchor="start" font-weight="normal" textLength="26.5" lengthAdjust="spacingAndGlyphs">MA</text>
<text x="46.5" y="198.0" font-size="19.2" fill="#434651" stroke="#434651" stroke-width="0.2" text-anchor="start" font-weight="normal" textLength="75.9" lengthAdjust="spacingAndGlyphs">5 close 0</text>
<text x="135.8" y="198.0" font-size="19.2" fill="#131722" stroke="#131722" stroke-width="0.2" text-anchor="start" font-weight="normal" textLength="66.6" lengthAdjust="spacingAndGlyphs">37.3066</text>
<text x="15.1" y="233.8" font-size="19.2" fill="#131722" stroke="#131722" stroke-width="0.2" text-anchor="start" font-weight="normal" textLength="26.5" lengthAdjust="spacingAndGlyphs">MA</text>
<text x="46.5" y="233.8" font-size="19.2" fill="#434651" stroke="#434651" stroke-width="0.2" text-anchor="start" font-weight="normal" textLength="96.6" lengthAdjust="spacingAndGlyphs">150 close 0</text>
<text x="156.2" y="233.8" font-size="19.2" fill="#1b5e20" stroke="#1b5e20" stroke-width="0.2" text-anchor="start" font-weight="normal" textLength="67.1" lengthAdjust="spacingAndGlyphs">36.8062</text>
<text x="15.1" y="269.9" font-size="19.2" fill="#131722" stroke="#131722" stroke-width="0.2" text-anchor="start" font-weight="normal" textLength="26.5" lengthAdjust="spacingAndGlyphs">MA</text>
<text x="46.5" y="269.9" font-size="19.2" fill="#434651" stroke="#434651" stroke-width="0.2" text-anchor="start" font-weight="normal" textLength="96.6" lengthAdjust="spacingAndGlyphs">200 close 0</text>
<text x="156.2" y="269.9" font-size="19.2" fill="#aa00ff" stroke="#aa00ff" stroke-width="0.2" text-anchor="start" font-weight="normal" textLength="67.1" lengthAdjust="spacingAndGlyphs">36.2019</text>
<rect x="15.5" y="284.5" width="42" height="29.5" rx="3.5" fill="#ffffff" fill-opacity="0.85" stroke="#e0e3eb" stroke-width="1"/>
<path d="M30.4,302.1L36.2,296.2L42,302.1" fill="none" stroke="#131722" stroke-linecap="round" stroke-linejoin="round" stroke-width="1.7"/>
<text x="15.6" y="697.7" font-size="19.5" fill="#131722" stroke="#131722" stroke-width="0.2" text-anchor="start" font-weight="normal" textLength="61.8" lengthAdjust="spacingAndGlyphs">Volume</text>
<text x="84.9" y="697.7" font-size="19.5" fill="#434651" stroke="#434651" stroke-width="0.2" text-anchor="start" font-weight="normal" textLength="18.9" lengthAdjust="spacingAndGlyphs">20</text>
<text x="118.1" y="697.7" font-size="19.5" fill="#f23f2d" stroke="#f23f2d" stroke-width="0.2" text-anchor="start" font-weight="normal" textLength="76.6" lengthAdjust="spacingAndGlyphs">34900.00</text>
<text x="205.5" y="697.7" font-size="19.5" fill="#1e90ef" stroke="#1e90ef" stroke-width="0.2" text-anchor="start" font-weight="normal" textLength="77.7" lengthAdjust="spacingAndGlyphs">62815.00</text>
<text x="15.1" y="904.0" font-size="19.2" fill="#b2b5be" stroke="#b2b5be" stroke-width="0.2" text-anchor="start" font-weight="normal" textLength="57.8" lengthAdjust="spacingAndGlyphs">ATR 14</text>
<g fill="none" stroke="#131722" stroke-linecap="round" stroke-linejoin="round" stroke-width="1.3"><path d="M88.2,896.3C92,890.4 96,888.2 100,888.2C104,888.2 108,890.4 111.8,896.3C108,902.2 104,904.4 100,904.4C96,904.4 92,902.2 88.2,896.3Z"/><path d="M103.4,893.7A4.2,4.2 0 0 1 102.6,899.6M96.6,898.9A4.2,4.2 0 0 1 97.4,893"/><path d="M108.9,887.1L91.1,905.4"/></g>
<circle cx="36.3" cy="945.6" r="24.3" fill="#ffffff" stroke="#e9e9e9" stroke-width="1.8"/>
<path d="M25.2,953.9C21.6,953.9 19.8,951.5 19.8,948.8C19.8,945.2 22.8,943.2 25.6,943.4C26.4,937.6 31,934.8 34.8,934.8C38.6,934.8 41.4,936.8 42.6,940C45.4,938.8 48.4,940 48.8,943.2C51.4,943.6 52.6,946.2 52.6,948.6C52.6,951.6 50.6,953.9 47.6,953.9Z" fill="#3da5ee"/>
<path d="M20.6,950.7L32.2,941.4L40.2,949.8L48.6,941.4" fill="none" stroke="#ffffff" stroke-width="2.1"/><circle cx="32.2" cy="941.4" r="2.5" fill="#fff"/><circle cx="40.2" cy="949.8" r="2.5" fill="#fff"/>
<text x="25.4" y="1059.1" font-size="20.3" fill="#131722" stroke="#131722" stroke-width="0.2" text-anchor="start" font-weight="normal" textLength="21.0" lengthAdjust="spacingAndGlyphs">5y</text>
<text x="68.7" y="1059.1" font-size="20.3" fill="#131722" stroke="#131722" stroke-width="0.2" text-anchor="start" font-weight="normal" textLength="20.0" lengthAdjust="spacingAndGlyphs">1y</text>
<text x="110.7" y="1059.1" font-size="20.3" fill="#131722" stroke="#131722" stroke-width="0.2" text-anchor="start" font-weight="normal" textLength="21.3" lengthAdjust="spacingAndGlyphs">6p</text>
<text x="154.0" y="1059.1" font-size="20.3" fill="#131722" stroke="#131722" stroke-width="0.2" text-anchor="start" font-weight="normal" textLength="21.4" lengthAdjust="spacingAndGlyphs">3p</text>
<text x="198.0" y="1059.1" font-size="20.3" fill="#131722" stroke="#131722" stroke-width="0.2" text-anchor="start" font-weight="normal" textLength="21.4" lengthAdjust="spacingAndGlyphs">1p</text>
<text x="241.4" y="1059.1" font-size="20.3" fill="#131722" stroke="#131722" stroke-width="0.2" text-anchor="start" font-weight="normal" textLength="21.0" lengthAdjust="spacingAndGlyphs">5n</text>
<text x="285.4" y="1059.1" font-size="20.3" fill="#131722" stroke="#131722" stroke-width="0.2" text-anchor="start" font-weight="normal" textLength="21.0" lengthAdjust="spacingAndGlyphs">1n</text>
<g fill="none" stroke="#131722" stroke-linecap="round" stroke-linejoin="round" stroke-width="1.4"><path d="M358.1,1049.6V1045C358.1,1043 359.6,1041.7 361.4,1041.7H377.6C379.4,1041.7 380.9,1043 380.9,1045V1057.9C380.9,1059.9 379.4,1061.2 377.6,1061.2H369.6"/><path d="M358.1,1047.6H380.9M364.1,1039.6V1043.8M374.6,1039.6V1043.8"/><path d="M356.2,1056.7H367M362.2,1051.6L367.2,1056.7L362.2,1061.8"/></g>
<text x="1442.9" y="1059.1" font-size="20.3" fill="#131722" stroke="#131722" stroke-width="0.2" text-anchor="start" font-weight="normal" textLength="162.5" lengthAdjust="spacingAndGlyphs">09:29:56 (UTC+7)</text>
<text x="1656.1" y="1059.1" font-size="20.3" fill="#131722" stroke="#131722" stroke-width="0.2" text-anchor="start" font-weight="normal" textLength="18.4" lengthAdjust="spacingAndGlyphs">%</text>
<text x="1698.1" y="1059.1" font-size="20.3" fill="#131722" stroke="#131722" stroke-width="0.2" text-anchor="start" font-weight="normal" textLength="26.7" lengthAdjust="spacingAndGlyphs">log</text>
<text x="1747.2" y="1059.1" font-size="20.3" fill="#2196f3" stroke="#2196f3" stroke-width="0.2" text-anchor="start" font-weight="normal" textLength="73.4" lengthAdjust="spacingAndGlyphs">tự động</text>
<g fill="none" stroke="#131722" stroke-linecap="round" stroke-linejoin="round" stroke-width="1.5"><circle cx="1783" cy="1001.9" r="7.2"/><path d="M1791.2,1001.9L1793.8,1001.9" stroke-linecap="butt"/><path d="M1788.8,1007.7L1790.6,1009.5" stroke-linecap="butt"/><path d="M1783.0,1010.1L1783.0,1012.7" stroke-linecap="butt"/><path d="M1777.2,1007.7L1775.4,1009.5" stroke-linecap="butt"/><path d="M1774.8,1001.9L1772.2,1001.9" stroke-linecap="butt"/><path d="M1777.2,996.1L1775.4,994.3" stroke-linecap="butt"/><path d="M1783.0,993.7L1783.0,991.1" stroke-linecap="butt"/><path d="M1788.8,996.1L1790.6,994.3" stroke-linecap="butt"/></g>
</svg>
</body></html>
